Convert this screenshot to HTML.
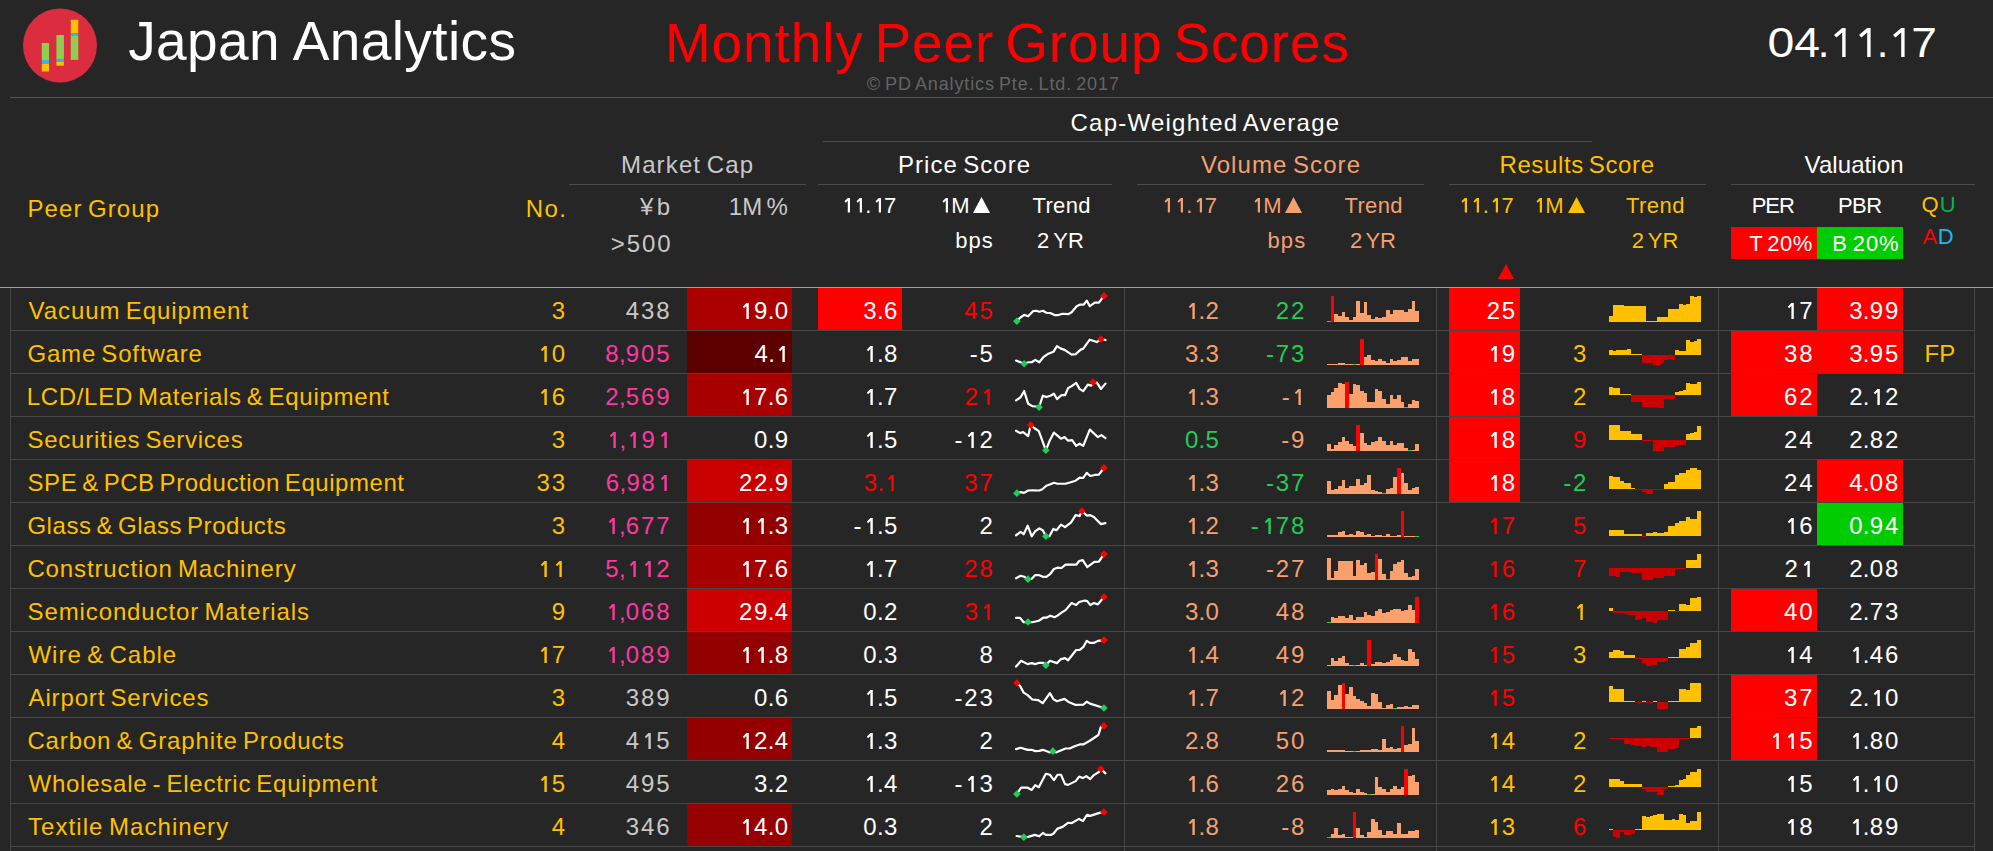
<!DOCTYPE html>
<html><head><meta charset="utf-8"><title>Monthly Peer Group Scores</title>
<style>
html,body{margin:0;padding:0;background:#262626;width:1993px;height:851px;overflow:hidden;}
body{position:relative;font-family:"Liberation Sans", sans-serif;}
.t{position:absolute;white-space:nowrap;}
.r{position:absolute;display:block;}
</style></head><body>
<svg class="r" style="left:22px;top:8px" width="76" height="76" viewBox="0 0 76 76">
<circle cx="38" cy="37.5" r="37" fill="#dc2d40"/>
<rect x="19.8" y="35" width="7.2" height="17" fill="#8fce50"/>
<rect x="19.8" y="52" width="7.2" height="4" fill="#2cb8e8"/>
<rect x="19.8" y="56" width="7.2" height="7.5" fill="#ffc000"/>
<rect x="34.4" y="27" width="7.5" height="24.5" fill="#8fce50"/>
<rect x="34.4" y="51.5" width="7.5" height="2.3" fill="#2cb8e8"/>
<rect x="34.4" y="53.8" width="7.5" height="3.9" fill="#ffc000"/>
<rect x="48.8" y="11.8" width="7.5" height="13.4" fill="#ffc000"/>
<rect x="48.8" y="25.2" width="7.5" height="2.8" fill="#2cb8e8"/>
<rect x="48.8" y="28" width="7.5" height="23.9" fill="#8fce50"/>
</svg>
<div class="t" style="top:13.94px;font-size:55px;line-height:55px;color:#ffffff;letter-spacing:0.402px;left:128.14px;">Japan Analytics</div>
<div class="t" style="top:15.94px;font-size:55px;line-height:55px;color:#ff0000;letter-spacing:0.879px;word-spacing:-5.22px;left:664.89px;">Monthly Peer Group Scores</div>
<div class="t" style="top:74.56px;font-size:18px;line-height:18px;color:#646464;letter-spacing:0.869px;word-spacing:-1.71px;left:866.73px;">© PD Analytics Pte. Ltd. 2017</div>
<div class="t" style="top:21.75px;left:1751.30px;width:60px;text-align:center;font-size:42px;line-height:42px;color:#fff;transform:scaleX(1.15)">0</div>
<div class="t" style="top:21.75px;left:1776.83px;width:60px;text-align:center;font-size:42px;line-height:42px;color:#fff;transform:scaleX(1.1)">4</div>
<div class="t" style="top:21.75px;left:1793.60px;width:60px;text-align:center;font-size:42px;line-height:42px;color:#fff;transform:scaleX(1.0)">.</div>
<svg class="r" style="left:1833.00px;top:26px" width="14" height="33" viewBox="0 0 14 33"><polygon points="9.2,1.9 12.6,1.9 12.6,31 9.2,31 9.2,6.6 3.4,11.6 1,9.0" fill="#fff"/></svg>
<svg class="r" style="left:1858.00px;top:26px" width="14" height="33" viewBox="0 0 14 33"><polygon points="9.2,1.9 12.6,1.9 12.6,31 9.2,31 9.2,6.6 3.4,11.6 1,9.0" fill="#fff"/></svg>
<div class="t" style="top:21.75px;left:1852.50px;width:60px;text-align:center;font-size:42px;line-height:42px;color:#fff;transform:scaleX(1.0)">.</div>
<svg class="r" style="left:1892.00px;top:26px" width="14" height="33" viewBox="0 0 14 33"><polygon points="9.2,1.9 12.6,1.9 12.6,31 9.2,31 9.2,6.6 3.4,11.6 1,9.0" fill="#fff"/></svg>
<div class="t" style="top:21.75px;left:1894.28px;width:60px;text-align:center;font-size:42px;line-height:42px;color:#fff;transform:scaleX(1.1)">7</div>
<div class="r" style="left:10px;top:97px;width:1983px;height:1px;background:#555555;"></div>
<div class="t" style="top:110.88px;font-size:24px;line-height:24px;color:#ffffff;letter-spacing:1.243px;word-spacing:-2.28px;left:1070.48px;">Cap-Weighted Average</div>
<div class="r" style="left:823px;top:141px;width:769px;height:1px;background:#4a4a4a;"></div>
<div class="t" style="top:153.18px;font-size:24px;line-height:24px;color:#c8c8c8;letter-spacing:1.134px;word-spacing:-2.28px;left:621.03px;">Market Cap</div>
<div class="t" style="top:153.18px;font-size:24px;line-height:24px;color:#ffffff;letter-spacing:1.025px;word-spacing:-2.28px;left:898.03px;">Price Score</div>
<div class="t" style="top:153.18px;font-size:24px;line-height:24px;color:#f5a070;letter-spacing:1.094px;word-spacing:-2.28px;left:1200.89px;">Volume Score</div>
<div class="t" style="top:153.28px;font-size:24px;line-height:24px;color:#ffc000;letter-spacing:0.627px;word-spacing:-2.28px;left:1499.43px;">Results Score</div>
<div class="t" style="top:153.28px;font-size:24px;line-height:24px;color:#ffffff;letter-spacing:0.085px;word-spacing:-2.28px;left:1804.59px;">Valuation</div>
<div class="r" style="left:569px;top:184px;width:237px;height:1px;background:#4a4a4a;"></div>
<div class="r" style="left:818px;top:184px;width:294px;height:1px;background:#4a4a4a;"></div>
<div class="r" style="left:1137px;top:184px;width:287px;height:1px;background:#4a4a4a;"></div>
<div class="r" style="left:1449px;top:184px;width:257px;height:1px;background:#4a4a4a;"></div>
<div class="r" style="left:1731px;top:184px;width:244px;height:1px;background:#4a4a4a;"></div>
<div class="t" style="top:196.68px;font-size:24px;line-height:24px;color:#ffc000;letter-spacing:1.075px;word-spacing:-2.28px;left:27.53px;">Peer Group</div>
<div class="t" style="top:196.68px;font-size:24px;line-height:24px;color:#ffc000;letter-spacing:1.458px;word-spacing:-2.28px;left:525.73px;">No.</div>
<div class="t" style="top:194.68px;font-size:24px;line-height:24px;color:#c8c8c8;letter-spacing:3.297px;word-spacing:-2.28px;left:640.02px;">¥b</div>
<div class="t" style="top:194.68px;font-size:24px;line-height:24px;color:#c8c8c8;letter-spacing:-0.032px;word-spacing:-2.28px;left:728.87px;">1M %</div>
<div class="t" style="top:232.38px;font-size:24px;line-height:24px;color:#c8c8c8;letter-spacing:1.891px;word-spacing:-2.28px;left:610.82px;">&gt;500</div>
<div class="t" style="top:194.88px;font-size:22px;line-height:22px;color:#ffffff;letter-spacing:0.0px;right:1096.50px;"><svg width="12.24" height="15.58" style="vertical-align:baseline" viewBox="0 0 12.24 15.58"><polygon points="6.78,0.92 8.98,0.92 8.98,15.58 6.78,15.58 6.78,3.76 4.67,5.68 3.48,4.31" fill="#ffffff"/></svg><svg width="12.54" height="15.58" style="vertical-align:baseline" viewBox="0 0 12.54 15.58"><polygon points="6.78,0.92 8.98,0.92 8.98,15.58 6.78,15.58 6.78,3.76 4.67,5.68 3.48,4.31" fill="#ffffff"/></svg><span style="letter-spacing:0.3px">.</span><svg width="12.24" height="15.58" style="vertical-align:baseline" viewBox="0 0 12.24 15.58"><polygon points="6.78,0.92 8.98,0.92 8.98,15.58 6.78,15.58 6.78,3.76 4.67,5.68 3.48,4.31" fill="#ffffff"/></svg><span style="letter-spacing:0.3px">7</span></div>
<div class="t" style="top:194.88px;left:938.80px;font-size:22px;line-height:22px;color:#ffffff;"><svg width="12.54" height="15.58" style="vertical-align:baseline" viewBox="0 0 12.54 15.58"><polygon points="6.78,0.92 8.98,0.92 8.98,15.58 6.78,15.58 6.78,3.76 4.67,5.68 3.48,4.31" fill="#ffffff"/></svg>M</div>
<svg class="r" style="left:973px;top:197px" width="17" height="16" viewBox="0 0 17 16"><polygon points="0,16 8.5,0 17,16" fill="#ffffff"/></svg>
<div class="t" style="top:194.88px;font-size:22px;line-height:22px;color:#ffffff;letter-spacing:0.314px;word-spacing:-2.09px;left:1032.51px;">Trend</div>
<div class="t" style="top:230.38px;font-size:22px;line-height:22px;color:#ffffff;letter-spacing:1.022px;word-spacing:-2.09px;left:955.28px;">bps</div>
<div class="t" style="top:230.38px;font-size:22px;line-height:22px;color:#ffffff;letter-spacing:0.234px;word-spacing:-2.09px;left:1036.89px;">2 YR</div>
<div class="t" style="top:194.88px;font-size:22px;line-height:22px;color:#f5a070;letter-spacing:0.0px;right:775.60px;"><svg width="12.24" height="15.58" style="vertical-align:baseline" viewBox="0 0 12.24 15.58"><polygon points="6.78,0.92 8.98,0.92 8.98,15.58 6.78,15.58 6.78,3.76 4.67,5.68 3.48,4.31" fill="#f5a070"/></svg><svg width="12.54" height="15.58" style="vertical-align:baseline" viewBox="0 0 12.54 15.58"><polygon points="6.78,0.92 8.98,0.92 8.98,15.58 6.78,15.58 6.78,3.76 4.67,5.68 3.48,4.31" fill="#f5a070"/></svg><span style="letter-spacing:0.3px">.</span><svg width="12.24" height="15.58" style="vertical-align:baseline" viewBox="0 0 12.24 15.58"><polygon points="6.78,0.92 8.98,0.92 8.98,15.58 6.78,15.58 6.78,3.76 4.67,5.68 3.48,4.31" fill="#f5a070"/></svg><span style="letter-spacing:0.3px">7</span></div>
<div class="t" style="top:194.88px;left:1250.80px;font-size:22px;line-height:22px;color:#f5a070;"><svg width="12.54" height="15.58" style="vertical-align:baseline" viewBox="0 0 12.54 15.58"><polygon points="6.78,0.92 8.98,0.92 8.98,15.58 6.78,15.58 6.78,3.76 4.67,5.68 3.48,4.31" fill="#f5a070"/></svg>M</div>
<svg class="r" style="left:1285px;top:197px" width="17" height="16" viewBox="0 0 17 16"><polygon points="0,16 8.5,0 17,16" fill="#f5a070"/></svg>
<div class="t" style="top:194.88px;font-size:22px;line-height:22px;color:#f5a070;letter-spacing:0.314px;word-spacing:-2.09px;left:1344.51px;">Trend</div>
<div class="t" style="top:230.38px;font-size:22px;line-height:22px;color:#f5a070;letter-spacing:1.172px;word-spacing:-2.09px;left:1267.38px;">bps</div>
<div class="t" style="top:230.38px;font-size:22px;line-height:22px;color:#f5a070;letter-spacing:-0.100px;word-spacing:-2.09px;left:1349.89px;">2 YR</div>
<div class="t" style="top:194.88px;font-size:22px;line-height:22px;color:#ffc000;letter-spacing:0.0px;right:479.00px;"><svg width="12.24" height="15.58" style="vertical-align:baseline" viewBox="0 0 12.24 15.58"><polygon points="6.78,0.92 8.98,0.92 8.98,15.58 6.78,15.58 6.78,3.76 4.67,5.68 3.48,4.31" fill="#ffc000"/></svg><svg width="12.54" height="15.58" style="vertical-align:baseline" viewBox="0 0 12.54 15.58"><polygon points="6.78,0.92 8.98,0.92 8.98,15.58 6.78,15.58 6.78,3.76 4.67,5.68 3.48,4.31" fill="#ffc000"/></svg><span style="letter-spacing:0.3px">.</span><svg width="12.24" height="15.58" style="vertical-align:baseline" viewBox="0 0 12.24 15.58"><polygon points="6.78,0.92 8.98,0.92 8.98,15.58 6.78,15.58 6.78,3.76 4.67,5.68 3.48,4.31" fill="#ffc000"/></svg><span style="letter-spacing:0.3px">7</span></div>
<div class="t" style="top:194.88px;left:1532.70px;font-size:22px;line-height:22px;color:#ffc000;"><svg width="12.54" height="15.58" style="vertical-align:baseline" viewBox="0 0 12.54 15.58"><polygon points="6.78,0.92 8.98,0.92 8.98,15.58 6.78,15.58 6.78,3.76 4.67,5.68 3.48,4.31" fill="#ffc000"/></svg>M</div>
<svg class="r" style="left:1567.5px;top:197px" width="17" height="16" viewBox="0 0 17 16"><polygon points="0,16 8.5,0 17,16" fill="#ffc000"/></svg>
<div class="t" style="top:194.88px;font-size:22px;line-height:22px;color:#ffc000;letter-spacing:0.464px;word-spacing:-2.09px;left:1625.91px;">Trend</div>
<div class="t" style="top:230.38px;font-size:22px;line-height:22px;color:#ffc000;letter-spacing:0.067px;word-spacing:-2.09px;left:1631.69px;">2 YR</div>
<div class="t" style="top:194.88px;font-size:22px;line-height:22px;color:#ffffff;letter-spacing:-1.055px;word-spacing:-2.09px;left:1751.70px;">PER</div>
<div class="t" style="top:194.88px;font-size:22px;line-height:22px;color:#ffffff;letter-spacing:-0.605px;word-spacing:-2.09px;left:1838.00px;">PBR</div>
<div class="t" style="top:194.38px;font-size:22px;line-height:22px;color:#ffffff;letter-spacing:1.000px;left:1921.50px;"><span style="color:#ffc000">Q</span><span style="color:#00b84a">U</span></div>
<div class="t" style="top:226.38px;font-size:22px;line-height:22px;color:#ffffff;letter-spacing:0.600px;left:1922.50px;"><span style="color:#ff0000">A</span><span style="color:#18baf0">D</span></div>
<div class="r" style="left:1731px;top:227px;width:86px;height:32px;background:#ff0000;"></div>
<div class="r" style="left:1817px;top:227px;width:86px;height:32px;background:#00cc00;"></div>
<div class="t" style="top:233.38px;font-size:22px;line-height:22px;color:#ffffff;letter-spacing:0.495px;word-spacing:-2.09px;left:1749.31px;">T 20%</div>
<div class="t" style="top:233.38px;font-size:22px;line-height:22px;color:#ffffff;letter-spacing:0.942px;word-spacing:-2.09px;left:1832.20px;">B 20%</div>
<svg class="r" style="left:1497.5px;top:264px" width="16" height="15" viewBox="0 0 16 15"><polygon points="0,15 8.0,0 16,15" fill="#ff0000"/></svg>
<div class="r" style="left:0px;top:287px;width:1993px;height:1px;background:#a0a0a0;"></div>
<div class="r" style="left:687px;top:288px;width:105px;height:42px;background:#aa0000;"></div>
<div class="r" style="left:818px;top:288px;width:84px;height:42px;background:#ff0000;"></div>
<div class="r" style="left:1449px;top:288px;width:71px;height:42px;background:#ff0000;"></div>
<div class="r" style="left:1817px;top:288px;width:86px;height:42px;background:#ff0000;"></div>
<div class="r" style="left:11px;top:330px;width:1963px;height:1px;background:#474747;"></div>
<div class="t" style="top:299.28px;font-size:24px;line-height:24px;color:#ffc000;letter-spacing:0.946px;word-spacing:-2.28px;left:28.49px;">Vacuum Equipment</div>
<div class="t" style="top:299.28px;font-size:24px;line-height:24px;color:#ffc000;letter-spacing:1.8px;right:1427.70px;"><span style="letter-spacing:0.3px">3</span></div>
<div class="t" style="top:299.28px;font-size:24px;line-height:24px;color:#c8c8c8;letter-spacing:1.8px;right:1323.20px;">43<span style="letter-spacing:0.3px">8</span></div>
<div class="t" style="top:299.28px;font-size:24px;line-height:24px;color:#ffffff;letter-spacing:1.8px;right:1204.70px;"><svg width="15.15" height="17.00" style="vertical-align:baseline" viewBox="0 0 15.15 17.00"><polygon points="7.40,1.00 9.80,1.00 9.80,17.00 7.40,17.00 7.40,4.10 5.10,6.20 3.80,4.70" fill="#ffffff"/></svg><span style="letter-spacing:0.3px">9</span><span style="letter-spacing:0.3px">.</span><span style="letter-spacing:0.3px">0</span></div>
<div class="t" style="top:299.28px;font-size:24px;line-height:24px;color:#ffffff;letter-spacing:1.8px;right:1095.40px;"><span style="letter-spacing:0.3px">3</span><span style="letter-spacing:0.3px">.</span><span style="letter-spacing:0.3px">6</span></div>
<div class="t" style="top:299.28px;font-size:24px;line-height:24px;color:#ff0000;letter-spacing:1.8px;right:999.90px;">4<span style="letter-spacing:0.3px">5</span></div>
<div class="t" style="top:299.28px;font-size:24px;line-height:24px;color:#f5a070;letter-spacing:1.8px;right:773.80px;"><svg width="13.65" height="17.00" style="vertical-align:baseline" viewBox="0 0 13.65 17.00"><polygon points="7.40,1.00 9.80,1.00 9.80,17.00 7.40,17.00 7.40,4.10 5.10,6.20 3.80,4.70" fill="#f5a070"/></svg><span style="letter-spacing:0.3px">.</span><span style="letter-spacing:0.3px">2</span></div>
<div class="t" style="top:299.28px;font-size:24px;line-height:24px;color:#22cc55;letter-spacing:1.8px;right:688.40px;">2<span style="letter-spacing:0.3px">2</span></div>
<div class="t" style="top:299.28px;font-size:24px;line-height:24px;color:#ffffff;letter-spacing:1.8px;right:477.50px;">2<span style="letter-spacing:0.3px">5</span></div>
<div class="t" style="top:299.28px;font-size:24px;line-height:24px;color:#ffffff;letter-spacing:1.8px;right:180.20px;"><svg width="15.15" height="17.00" style="vertical-align:baseline" viewBox="0 0 15.15 17.00"><polygon points="7.40,1.00 9.80,1.00 9.80,17.00 7.40,17.00 7.40,4.10 5.10,6.20 3.80,4.70" fill="#ffffff"/></svg><span style="letter-spacing:0.3px">7</span></div>
<div class="t" style="top:299.28px;font-size:24px;line-height:24px;color:#ffffff;letter-spacing:1.8px;right:94.40px;"><span style="letter-spacing:0.3px">3</span><span style="letter-spacing:0.3px">.</span>9<span style="letter-spacing:0.3px">9</span></div>
<div class="r" style="left:687px;top:331px;width:105px;height:42px;background:#5c0000;"></div>
<div class="r" style="left:1449px;top:331px;width:71px;height:42px;background:#ff0000;"></div>
<div class="r" style="left:1731px;top:331px;width:86px;height:42px;background:#ff0000;"></div>
<div class="r" style="left:1817px;top:331px;width:86px;height:42px;background:#ff0000;"></div>
<div class="r" style="left:11px;top:373px;width:1963px;height:1px;background:#474747;"></div>
<div class="t" style="top:342.28px;font-size:24px;line-height:24px;color:#ffc000;letter-spacing:0.842px;word-spacing:-2.28px;left:27.39px;">Game Software</div>
<div class="t" style="top:342.28px;font-size:24px;line-height:24px;color:#ffc000;letter-spacing:1.8px;right:1427.70px;"><svg width="15.15" height="17.00" style="vertical-align:baseline" viewBox="0 0 15.15 17.00"><polygon points="7.40,1.00 9.80,1.00 9.80,17.00 7.40,17.00 7.40,4.10 5.10,6.20 3.80,4.70" fill="#ffc000"/></svg><span style="letter-spacing:0.3px">0</span></div>
<div class="t" style="top:342.28px;font-size:24px;line-height:24px;color:#ff38a0;letter-spacing:1.8px;right:1323.20px;"><span style="letter-spacing:0.3px">8</span><span style="letter-spacing:0.3px">,</span>90<span style="letter-spacing:0.3px">5</span></div>
<div class="t" style="top:342.28px;font-size:24px;line-height:24px;color:#ffffff;letter-spacing:1.8px;right:1204.20px;"><span style="letter-spacing:0.3px">4</span><span style="letter-spacing:0.3px">.</span><svg width="13.65" height="17.00" style="vertical-align:baseline" viewBox="0 0 13.65 17.00"><polygon points="7.40,1.00 9.80,1.00 9.80,17.00 7.40,17.00 7.40,4.10 5.10,6.20 3.80,4.70" fill="#ffffff"/></svg></div>
<div class="t" style="top:342.28px;font-size:24px;line-height:24px;color:#ffffff;letter-spacing:1.8px;right:1095.40px;"><svg width="13.65" height="17.00" style="vertical-align:baseline" viewBox="0 0 13.65 17.00"><polygon points="7.40,1.00 9.80,1.00 9.80,17.00 7.40,17.00 7.40,4.10 5.10,6.20 3.80,4.70" fill="#ffffff"/></svg><span style="letter-spacing:0.3px">.</span><span style="letter-spacing:0.3px">8</span></div>
<div class="t" style="top:342.28px;font-size:24px;line-height:24px;color:#ffffff;letter-spacing:1.8px;right:999.90px;">-<span style="letter-spacing:0.3px">5</span></div>
<div class="t" style="top:342.28px;font-size:24px;line-height:24px;color:#f5a070;letter-spacing:1.8px;right:773.80px;"><span style="letter-spacing:0.3px">3</span><span style="letter-spacing:0.3px">.</span><span style="letter-spacing:0.3px">3</span></div>
<div class="t" style="top:342.28px;font-size:24px;line-height:24px;color:#22cc55;letter-spacing:1.8px;right:688.40px;">-7<span style="letter-spacing:0.3px">3</span></div>
<div class="t" style="top:342.28px;font-size:24px;line-height:24px;color:#ffffff;letter-spacing:1.8px;right:477.50px;"><svg width="15.15" height="17.00" style="vertical-align:baseline" viewBox="0 0 15.15 17.00"><polygon points="7.40,1.00 9.80,1.00 9.80,17.00 7.40,17.00 7.40,4.10 5.10,6.20 3.80,4.70" fill="#ffffff"/></svg><span style="letter-spacing:0.3px">9</span></div>
<div class="t" style="top:342.28px;font-size:24px;line-height:24px;color:#ffc000;letter-spacing:1.8px;right:406.40px;"><span style="letter-spacing:0.3px">3</span></div>
<div class="t" style="top:342.28px;font-size:24px;line-height:24px;color:#ffffff;letter-spacing:1.8px;right:180.20px;">3<span style="letter-spacing:0.3px">8</span></div>
<div class="t" style="top:342.28px;font-size:24px;line-height:24px;color:#ffffff;letter-spacing:1.8px;right:94.40px;"><span style="letter-spacing:0.3px">3</span><span style="letter-spacing:0.3px">.</span>9<span style="letter-spacing:0.3px">5</span></div>
<div class="t" style="top:342.28px;font-size:24px;line-height:24px;color:#ffc000;letter-spacing:-0.037px;word-spacing:-2.28px;left:1924.53px;">FP</div>
<div class="r" style="left:687px;top:374px;width:105px;height:42px;background:#a80000;"></div>
<div class="r" style="left:1449px;top:374px;width:71px;height:42px;background:#ff0000;"></div>
<div class="r" style="left:1731px;top:374px;width:86px;height:42px;background:#ff0000;"></div>
<div class="r" style="left:11px;top:416px;width:1963px;height:1px;background:#474747;"></div>
<div class="t" style="top:385.28px;font-size:24px;line-height:24px;color:#ffc000;letter-spacing:0.704px;word-spacing:-2.28px;left:26.63px;">LCD/LED Materials &amp; Equipment</div>
<div class="t" style="top:385.28px;font-size:24px;line-height:24px;color:#ffc000;letter-spacing:1.8px;right:1427.70px;"><svg width="15.15" height="17.00" style="vertical-align:baseline" viewBox="0 0 15.15 17.00"><polygon points="7.40,1.00 9.80,1.00 9.80,17.00 7.40,17.00 7.40,4.10 5.10,6.20 3.80,4.70" fill="#ffc000"/></svg><span style="letter-spacing:0.3px">6</span></div>
<div class="t" style="top:385.28px;font-size:24px;line-height:24px;color:#ff38a0;letter-spacing:1.8px;right:1323.20px;"><span style="letter-spacing:0.3px">2</span><span style="letter-spacing:0.3px">,</span>56<span style="letter-spacing:0.3px">9</span></div>
<div class="t" style="top:385.28px;font-size:24px;line-height:24px;color:#ffffff;letter-spacing:1.8px;right:1204.70px;"><svg width="15.15" height="17.00" style="vertical-align:baseline" viewBox="0 0 15.15 17.00"><polygon points="7.40,1.00 9.80,1.00 9.80,17.00 7.40,17.00 7.40,4.10 5.10,6.20 3.80,4.70" fill="#ffffff"/></svg><span style="letter-spacing:0.3px">7</span><span style="letter-spacing:0.3px">.</span><span style="letter-spacing:0.3px">6</span></div>
<div class="t" style="top:385.28px;font-size:24px;line-height:24px;color:#ffffff;letter-spacing:1.8px;right:1095.40px;"><svg width="13.65" height="17.00" style="vertical-align:baseline" viewBox="0 0 13.65 17.00"><polygon points="7.40,1.00 9.80,1.00 9.80,17.00 7.40,17.00 7.40,4.10 5.10,6.20 3.80,4.70" fill="#ffffff"/></svg><span style="letter-spacing:0.3px">.</span><span style="letter-spacing:0.3px">7</span></div>
<div class="t" style="top:385.28px;font-size:24px;line-height:24px;color:#ff0000;letter-spacing:1.8px;right:999.40px;">2<svg width="13.65" height="17.00" style="vertical-align:baseline" viewBox="0 0 13.65 17.00"><polygon points="7.40,1.00 9.80,1.00 9.80,17.00 7.40,17.00 7.40,4.10 5.10,6.20 3.80,4.70" fill="#ff0000"/></svg></div>
<div class="t" style="top:385.28px;font-size:24px;line-height:24px;color:#f5a070;letter-spacing:1.8px;right:773.80px;"><svg width="13.65" height="17.00" style="vertical-align:baseline" viewBox="0 0 13.65 17.00"><polygon points="7.40,1.00 9.80,1.00 9.80,17.00 7.40,17.00 7.40,4.10 5.10,6.20 3.80,4.70" fill="#f5a070"/></svg><span style="letter-spacing:0.3px">.</span><span style="letter-spacing:0.3px">3</span></div>
<div class="t" style="top:385.28px;font-size:24px;line-height:24px;color:#f5a070;letter-spacing:1.8px;right:687.90px;">-<svg width="13.65" height="17.00" style="vertical-align:baseline" viewBox="0 0 13.65 17.00"><polygon points="7.40,1.00 9.80,1.00 9.80,17.00 7.40,17.00 7.40,4.10 5.10,6.20 3.80,4.70" fill="#f5a070"/></svg></div>
<div class="t" style="top:385.28px;font-size:24px;line-height:24px;color:#ffffff;letter-spacing:1.8px;right:477.50px;"><svg width="15.15" height="17.00" style="vertical-align:baseline" viewBox="0 0 15.15 17.00"><polygon points="7.40,1.00 9.80,1.00 9.80,17.00 7.40,17.00 7.40,4.10 5.10,6.20 3.80,4.70" fill="#ffffff"/></svg><span style="letter-spacing:0.3px">8</span></div>
<div class="t" style="top:385.28px;font-size:24px;line-height:24px;color:#ffc000;letter-spacing:1.8px;right:406.40px;"><span style="letter-spacing:0.3px">2</span></div>
<div class="t" style="top:385.28px;font-size:24px;line-height:24px;color:#ffffff;letter-spacing:1.8px;right:180.20px;">6<span style="letter-spacing:0.3px">2</span></div>
<div class="t" style="top:385.28px;font-size:24px;line-height:24px;color:#ffffff;letter-spacing:1.8px;right:94.40px;"><span style="letter-spacing:0.3px">2</span><span style="letter-spacing:0.3px">.</span><svg width="15.15" height="17.00" style="vertical-align:baseline" viewBox="0 0 15.15 17.00"><polygon points="7.40,1.00 9.80,1.00 9.80,17.00 7.40,17.00 7.40,4.10 5.10,6.20 3.80,4.70" fill="#ffffff"/></svg><span style="letter-spacing:0.3px">2</span></div>
<div class="r" style="left:1449px;top:417px;width:71px;height:42px;background:#ff0000;"></div>
<div class="r" style="left:11px;top:459px;width:1963px;height:1px;background:#474747;"></div>
<div class="t" style="top:428.28px;font-size:24px;line-height:24px;color:#ffc000;letter-spacing:0.742px;word-spacing:-2.28px;left:27.51px;">Securities Services</div>
<div class="t" style="top:428.28px;font-size:24px;line-height:24px;color:#ffc000;letter-spacing:1.8px;right:1427.70px;"><span style="letter-spacing:0.3px">3</span></div>
<div class="t" style="top:428.28px;font-size:24px;line-height:24px;color:#ff38a0;letter-spacing:1.8px;right:1322.70px;"><svg width="13.65" height="17.00" style="vertical-align:baseline" viewBox="0 0 13.65 17.00"><polygon points="7.40,1.00 9.80,1.00 9.80,17.00 7.40,17.00 7.40,4.10 5.10,6.20 3.80,4.70" fill="#ff38a0"/></svg><span style="letter-spacing:0.3px">,</span><svg width="15.15" height="17.00" style="vertical-align:baseline" viewBox="0 0 15.15 17.00"><polygon points="7.40,1.00 9.80,1.00 9.80,17.00 7.40,17.00 7.40,4.10 5.10,6.20 3.80,4.70" fill="#ff38a0"/></svg>9<svg width="13.65" height="17.00" style="vertical-align:baseline" viewBox="0 0 13.65 17.00"><polygon points="7.40,1.00 9.80,1.00 9.80,17.00 7.40,17.00 7.40,4.10 5.10,6.20 3.80,4.70" fill="#ff38a0"/></svg></div>
<div class="t" style="top:428.28px;font-size:24px;line-height:24px;color:#ffffff;letter-spacing:1.8px;right:1204.70px;"><span style="letter-spacing:0.3px">0</span><span style="letter-spacing:0.3px">.</span><span style="letter-spacing:0.3px">9</span></div>
<div class="t" style="top:428.28px;font-size:24px;line-height:24px;color:#ffffff;letter-spacing:1.8px;right:1095.40px;"><svg width="13.65" height="17.00" style="vertical-align:baseline" viewBox="0 0 13.65 17.00"><polygon points="7.40,1.00 9.80,1.00 9.80,17.00 7.40,17.00 7.40,4.10 5.10,6.20 3.80,4.70" fill="#ffffff"/></svg><span style="letter-spacing:0.3px">.</span><span style="letter-spacing:0.3px">5</span></div>
<div class="t" style="top:428.28px;font-size:24px;line-height:24px;color:#ffffff;letter-spacing:1.8px;right:999.90px;">-<svg width="15.15" height="17.00" style="vertical-align:baseline" viewBox="0 0 15.15 17.00"><polygon points="7.40,1.00 9.80,1.00 9.80,17.00 7.40,17.00 7.40,4.10 5.10,6.20 3.80,4.70" fill="#ffffff"/></svg><span style="letter-spacing:0.3px">2</span></div>
<div class="t" style="top:428.28px;font-size:24px;line-height:24px;color:#22cc55;letter-spacing:1.8px;right:773.80px;"><span style="letter-spacing:0.3px">0</span><span style="letter-spacing:0.3px">.</span><span style="letter-spacing:0.3px">5</span></div>
<div class="t" style="top:428.28px;font-size:24px;line-height:24px;color:#f5a070;letter-spacing:1.8px;right:688.40px;">-<span style="letter-spacing:0.3px">9</span></div>
<div class="t" style="top:428.28px;font-size:24px;line-height:24px;color:#ffffff;letter-spacing:1.8px;right:477.50px;"><svg width="15.15" height="17.00" style="vertical-align:baseline" viewBox="0 0 15.15 17.00"><polygon points="7.40,1.00 9.80,1.00 9.80,17.00 7.40,17.00 7.40,4.10 5.10,6.20 3.80,4.70" fill="#ffffff"/></svg><span style="letter-spacing:0.3px">8</span></div>
<div class="t" style="top:428.28px;font-size:24px;line-height:24px;color:#ff0000;letter-spacing:1.8px;right:406.40px;"><span style="letter-spacing:0.3px">9</span></div>
<div class="t" style="top:428.28px;font-size:24px;line-height:24px;color:#ffffff;letter-spacing:1.8px;right:180.20px;">2<span style="letter-spacing:0.3px">4</span></div>
<div class="t" style="top:428.28px;font-size:24px;line-height:24px;color:#ffffff;letter-spacing:1.8px;right:94.40px;"><span style="letter-spacing:0.3px">2</span><span style="letter-spacing:0.3px">.</span>8<span style="letter-spacing:0.3px">2</span></div>
<div class="r" style="left:687px;top:460px;width:105px;height:42px;background:#c80000;"></div>
<div class="r" style="left:1449px;top:460px;width:71px;height:42px;background:#ff0000;"></div>
<div class="r" style="left:1817px;top:460px;width:86px;height:42px;background:#ff0000;"></div>
<div class="r" style="left:11px;top:502px;width:1963px;height:1px;background:#474747;"></div>
<div class="t" style="top:471.28px;font-size:24px;line-height:24px;color:#ffc000;letter-spacing:0.555px;word-spacing:-2.28px;left:27.51px;">SPE &amp; PCB Production Equipment</div>
<div class="t" style="top:471.28px;font-size:24px;line-height:24px;color:#ffc000;letter-spacing:1.8px;right:1427.70px;">3<span style="letter-spacing:0.3px">3</span></div>
<div class="t" style="top:471.28px;font-size:24px;line-height:24px;color:#ff38a0;letter-spacing:1.8px;right:1322.70px;"><span style="letter-spacing:0.3px">6</span><span style="letter-spacing:0.3px">,</span>98<svg width="13.65" height="17.00" style="vertical-align:baseline" viewBox="0 0 13.65 17.00"><polygon points="7.40,1.00 9.80,1.00 9.80,17.00 7.40,17.00 7.40,4.10 5.10,6.20 3.80,4.70" fill="#ff38a0"/></svg></div>
<div class="t" style="top:471.28px;font-size:24px;line-height:24px;color:#ffffff;letter-spacing:1.8px;right:1204.70px;">2<span style="letter-spacing:0.3px">2</span><span style="letter-spacing:0.3px">.</span><span style="letter-spacing:0.3px">9</span></div>
<div class="t" style="top:471.28px;font-size:24px;line-height:24px;color:#ff0000;letter-spacing:1.8px;right:1094.90px;"><span style="letter-spacing:0.3px">3</span><span style="letter-spacing:0.3px">.</span><svg width="13.65" height="17.00" style="vertical-align:baseline" viewBox="0 0 13.65 17.00"><polygon points="7.40,1.00 9.80,1.00 9.80,17.00 7.40,17.00 7.40,4.10 5.10,6.20 3.80,4.70" fill="#ff0000"/></svg></div>
<div class="t" style="top:471.28px;font-size:24px;line-height:24px;color:#ff0000;letter-spacing:1.8px;right:999.90px;">3<span style="letter-spacing:0.3px">7</span></div>
<div class="t" style="top:471.28px;font-size:24px;line-height:24px;color:#f5a070;letter-spacing:1.8px;right:773.80px;"><svg width="13.65" height="17.00" style="vertical-align:baseline" viewBox="0 0 13.65 17.00"><polygon points="7.40,1.00 9.80,1.00 9.80,17.00 7.40,17.00 7.40,4.10 5.10,6.20 3.80,4.70" fill="#f5a070"/></svg><span style="letter-spacing:0.3px">.</span><span style="letter-spacing:0.3px">3</span></div>
<div class="t" style="top:471.28px;font-size:24px;line-height:24px;color:#22cc55;letter-spacing:1.8px;right:688.40px;">-3<span style="letter-spacing:0.3px">7</span></div>
<div class="t" style="top:471.28px;font-size:24px;line-height:24px;color:#ffffff;letter-spacing:1.8px;right:477.50px;"><svg width="15.15" height="17.00" style="vertical-align:baseline" viewBox="0 0 15.15 17.00"><polygon points="7.40,1.00 9.80,1.00 9.80,17.00 7.40,17.00 7.40,4.10 5.10,6.20 3.80,4.70" fill="#ffffff"/></svg><span style="letter-spacing:0.3px">8</span></div>
<div class="t" style="top:471.28px;font-size:24px;line-height:24px;color:#22cc55;letter-spacing:1.8px;right:406.40px;">-<span style="letter-spacing:0.3px">2</span></div>
<div class="t" style="top:471.28px;font-size:24px;line-height:24px;color:#ffffff;letter-spacing:1.8px;right:180.20px;">2<span style="letter-spacing:0.3px">4</span></div>
<div class="t" style="top:471.28px;font-size:24px;line-height:24px;color:#ffffff;letter-spacing:1.8px;right:94.40px;"><span style="letter-spacing:0.3px">4</span><span style="letter-spacing:0.3px">.</span>0<span style="letter-spacing:0.3px">8</span></div>
<div class="r" style="left:687px;top:503px;width:105px;height:42px;background:#920000;"></div>
<div class="r" style="left:1817px;top:503px;width:86px;height:42px;background:#00cc00;"></div>
<div class="r" style="left:11px;top:545px;width:1963px;height:1px;background:#474747;"></div>
<div class="t" style="top:514.28px;font-size:24px;line-height:24px;color:#ffc000;letter-spacing:0.556px;word-spacing:-2.28px;left:27.39px;">Glass &amp; Glass Products</div>
<div class="t" style="top:514.28px;font-size:24px;line-height:24px;color:#ffc000;letter-spacing:1.8px;right:1427.70px;"><span style="letter-spacing:0.3px">3</span></div>
<div class="t" style="top:514.28px;font-size:24px;line-height:24px;color:#ff38a0;letter-spacing:1.8px;right:1323.20px;"><svg width="13.65" height="17.00" style="vertical-align:baseline" viewBox="0 0 13.65 17.00"><polygon points="7.40,1.00 9.80,1.00 9.80,17.00 7.40,17.00 7.40,4.10 5.10,6.20 3.80,4.70" fill="#ff38a0"/></svg><span style="letter-spacing:0.3px">,</span>67<span style="letter-spacing:0.3px">7</span></div>
<div class="t" style="top:514.28px;font-size:24px;line-height:24px;color:#ffffff;letter-spacing:1.8px;right:1204.70px;"><svg width="15.15" height="17.00" style="vertical-align:baseline" viewBox="0 0 15.15 17.00"><polygon points="7.40,1.00 9.80,1.00 9.80,17.00 7.40,17.00 7.40,4.10 5.10,6.20 3.80,4.70" fill="#ffffff"/></svg><svg width="13.65" height="17.00" style="vertical-align:baseline" viewBox="0 0 13.65 17.00"><polygon points="7.40,1.00 9.80,1.00 9.80,17.00 7.40,17.00 7.40,4.10 5.10,6.20 3.80,4.70" fill="#ffffff"/></svg><span style="letter-spacing:0.3px">.</span><span style="letter-spacing:0.3px">3</span></div>
<div class="t" style="top:514.28px;font-size:24px;line-height:24px;color:#ffffff;letter-spacing:1.8px;right:1095.40px;">-<svg width="13.65" height="17.00" style="vertical-align:baseline" viewBox="0 0 13.65 17.00"><polygon points="7.40,1.00 9.80,1.00 9.80,17.00 7.40,17.00 7.40,4.10 5.10,6.20 3.80,4.70" fill="#ffffff"/></svg><span style="letter-spacing:0.3px">.</span><span style="letter-spacing:0.3px">5</span></div>
<div class="t" style="top:514.28px;font-size:24px;line-height:24px;color:#ffffff;letter-spacing:1.8px;right:999.90px;"><span style="letter-spacing:0.3px">2</span></div>
<div class="t" style="top:514.28px;font-size:24px;line-height:24px;color:#f5a070;letter-spacing:1.8px;right:773.80px;"><svg width="13.65" height="17.00" style="vertical-align:baseline" viewBox="0 0 13.65 17.00"><polygon points="7.40,1.00 9.80,1.00 9.80,17.00 7.40,17.00 7.40,4.10 5.10,6.20 3.80,4.70" fill="#f5a070"/></svg><span style="letter-spacing:0.3px">.</span><span style="letter-spacing:0.3px">2</span></div>
<div class="t" style="top:514.28px;font-size:24px;line-height:24px;color:#22cc55;letter-spacing:1.8px;right:688.40px;">-<svg width="15.15" height="17.00" style="vertical-align:baseline" viewBox="0 0 15.15 17.00"><polygon points="7.40,1.00 9.80,1.00 9.80,17.00 7.40,17.00 7.40,4.10 5.10,6.20 3.80,4.70" fill="#22cc55"/></svg>7<span style="letter-spacing:0.3px">8</span></div>
<div class="t" style="top:514.28px;font-size:24px;line-height:24px;color:#ff0000;letter-spacing:1.8px;right:477.50px;"><svg width="15.15" height="17.00" style="vertical-align:baseline" viewBox="0 0 15.15 17.00"><polygon points="7.40,1.00 9.80,1.00 9.80,17.00 7.40,17.00 7.40,4.10 5.10,6.20 3.80,4.70" fill="#ff0000"/></svg><span style="letter-spacing:0.3px">7</span></div>
<div class="t" style="top:514.28px;font-size:24px;line-height:24px;color:#ff0000;letter-spacing:1.8px;right:406.40px;"><span style="letter-spacing:0.3px">5</span></div>
<div class="t" style="top:514.28px;font-size:24px;line-height:24px;color:#ffffff;letter-spacing:1.8px;right:180.20px;"><svg width="15.15" height="17.00" style="vertical-align:baseline" viewBox="0 0 15.15 17.00"><polygon points="7.40,1.00 9.80,1.00 9.80,17.00 7.40,17.00 7.40,4.10 5.10,6.20 3.80,4.70" fill="#ffffff"/></svg><span style="letter-spacing:0.3px">6</span></div>
<div class="t" style="top:514.28px;font-size:24px;line-height:24px;color:#ffffff;letter-spacing:1.8px;right:94.40px;"><span style="letter-spacing:0.3px">0</span><span style="letter-spacing:0.3px">.</span>9<span style="letter-spacing:0.3px">4</span></div>
<div class="r" style="left:687px;top:546px;width:105px;height:42px;background:#a60000;"></div>
<div class="r" style="left:11px;top:588px;width:1963px;height:1px;background:#474747;"></div>
<div class="t" style="top:557.28px;font-size:24px;line-height:24px;color:#ffc000;letter-spacing:0.879px;word-spacing:-2.28px;left:27.38px;">Construction Machinery</div>
<div class="t" style="top:557.28px;font-size:24px;line-height:24px;color:#ffc000;letter-spacing:1.8px;right:1427.20px;"><svg width="15.15" height="17.00" style="vertical-align:baseline" viewBox="0 0 15.15 17.00"><polygon points="7.40,1.00 9.80,1.00 9.80,17.00 7.40,17.00 7.40,4.10 5.10,6.20 3.80,4.70" fill="#ffc000"/></svg><svg width="13.65" height="17.00" style="vertical-align:baseline" viewBox="0 0 13.65 17.00"><polygon points="7.40,1.00 9.80,1.00 9.80,17.00 7.40,17.00 7.40,4.10 5.10,6.20 3.80,4.70" fill="#ffc000"/></svg></div>
<div class="t" style="top:557.28px;font-size:24px;line-height:24px;color:#ff38a0;letter-spacing:1.8px;right:1323.20px;"><span style="letter-spacing:0.3px">5</span><span style="letter-spacing:0.3px">,</span><svg width="15.15" height="17.00" style="vertical-align:baseline" viewBox="0 0 15.15 17.00"><polygon points="7.40,1.00 9.80,1.00 9.80,17.00 7.40,17.00 7.40,4.10 5.10,6.20 3.80,4.70" fill="#ff38a0"/></svg><svg width="15.15" height="17.00" style="vertical-align:baseline" viewBox="0 0 15.15 17.00"><polygon points="7.40,1.00 9.80,1.00 9.80,17.00 7.40,17.00 7.40,4.10 5.10,6.20 3.80,4.70" fill="#ff38a0"/></svg><span style="letter-spacing:0.3px">2</span></div>
<div class="t" style="top:557.28px;font-size:24px;line-height:24px;color:#ffffff;letter-spacing:1.8px;right:1204.70px;"><svg width="15.15" height="17.00" style="vertical-align:baseline" viewBox="0 0 15.15 17.00"><polygon points="7.40,1.00 9.80,1.00 9.80,17.00 7.40,17.00 7.40,4.10 5.10,6.20 3.80,4.70" fill="#ffffff"/></svg><span style="letter-spacing:0.3px">7</span><span style="letter-spacing:0.3px">.</span><span style="letter-spacing:0.3px">6</span></div>
<div class="t" style="top:557.28px;font-size:24px;line-height:24px;color:#ffffff;letter-spacing:1.8px;right:1095.40px;"><svg width="13.65" height="17.00" style="vertical-align:baseline" viewBox="0 0 13.65 17.00"><polygon points="7.40,1.00 9.80,1.00 9.80,17.00 7.40,17.00 7.40,4.10 5.10,6.20 3.80,4.70" fill="#ffffff"/></svg><span style="letter-spacing:0.3px">.</span><span style="letter-spacing:0.3px">7</span></div>
<div class="t" style="top:557.28px;font-size:24px;line-height:24px;color:#ff0000;letter-spacing:1.8px;right:999.90px;">2<span style="letter-spacing:0.3px">8</span></div>
<div class="t" style="top:557.28px;font-size:24px;line-height:24px;color:#f5a070;letter-spacing:1.8px;right:773.80px;"><svg width="13.65" height="17.00" style="vertical-align:baseline" viewBox="0 0 13.65 17.00"><polygon points="7.40,1.00 9.80,1.00 9.80,17.00 7.40,17.00 7.40,4.10 5.10,6.20 3.80,4.70" fill="#f5a070"/></svg><span style="letter-spacing:0.3px">.</span><span style="letter-spacing:0.3px">3</span></div>
<div class="t" style="top:557.28px;font-size:24px;line-height:24px;color:#f5a070;letter-spacing:1.8px;right:688.40px;">-2<span style="letter-spacing:0.3px">7</span></div>
<div class="t" style="top:557.28px;font-size:24px;line-height:24px;color:#ff0000;letter-spacing:1.8px;right:477.50px;"><svg width="15.15" height="17.00" style="vertical-align:baseline" viewBox="0 0 15.15 17.00"><polygon points="7.40,1.00 9.80,1.00 9.80,17.00 7.40,17.00 7.40,4.10 5.10,6.20 3.80,4.70" fill="#ff0000"/></svg><span style="letter-spacing:0.3px">6</span></div>
<div class="t" style="top:557.28px;font-size:24px;line-height:24px;color:#ff0000;letter-spacing:1.8px;right:406.40px;"><span style="letter-spacing:0.3px">7</span></div>
<div class="t" style="top:557.28px;font-size:24px;line-height:24px;color:#ffffff;letter-spacing:1.8px;right:179.70px;">2<svg width="13.65" height="17.00" style="vertical-align:baseline" viewBox="0 0 13.65 17.00"><polygon points="7.40,1.00 9.80,1.00 9.80,17.00 7.40,17.00 7.40,4.10 5.10,6.20 3.80,4.70" fill="#ffffff"/></svg></div>
<div class="t" style="top:557.28px;font-size:24px;line-height:24px;color:#ffffff;letter-spacing:1.8px;right:94.40px;"><span style="letter-spacing:0.3px">2</span><span style="letter-spacing:0.3px">.</span>0<span style="letter-spacing:0.3px">8</span></div>
<div class="r" style="left:687px;top:589px;width:105px;height:42px;background:#cc0000;"></div>
<div class="r" style="left:1731px;top:589px;width:86px;height:42px;background:#ff0000;"></div>
<div class="r" style="left:11px;top:631px;width:1963px;height:1px;background:#474747;"></div>
<div class="t" style="top:600.28px;font-size:24px;line-height:24px;color:#ffc000;letter-spacing:0.892px;word-spacing:-2.28px;left:27.51px;">Semiconductor Materials</div>
<div class="t" style="top:600.28px;font-size:24px;line-height:24px;color:#ffc000;letter-spacing:1.8px;right:1427.70px;"><span style="letter-spacing:0.3px">9</span></div>
<div class="t" style="top:600.28px;font-size:24px;line-height:24px;color:#ff38a0;letter-spacing:1.8px;right:1323.20px;"><svg width="13.65" height="17.00" style="vertical-align:baseline" viewBox="0 0 13.65 17.00"><polygon points="7.40,1.00 9.80,1.00 9.80,17.00 7.40,17.00 7.40,4.10 5.10,6.20 3.80,4.70" fill="#ff38a0"/></svg><span style="letter-spacing:0.3px">,</span>06<span style="letter-spacing:0.3px">8</span></div>
<div class="t" style="top:600.28px;font-size:24px;line-height:24px;color:#ffffff;letter-spacing:1.8px;right:1204.70px;">2<span style="letter-spacing:0.3px">9</span><span style="letter-spacing:0.3px">.</span><span style="letter-spacing:0.3px">4</span></div>
<div class="t" style="top:600.28px;font-size:24px;line-height:24px;color:#ffffff;letter-spacing:1.8px;right:1095.40px;"><span style="letter-spacing:0.3px">0</span><span style="letter-spacing:0.3px">.</span><span style="letter-spacing:0.3px">2</span></div>
<div class="t" style="top:600.28px;font-size:24px;line-height:24px;color:#ff0000;letter-spacing:1.8px;right:999.40px;">3<svg width="13.65" height="17.00" style="vertical-align:baseline" viewBox="0 0 13.65 17.00"><polygon points="7.40,1.00 9.80,1.00 9.80,17.00 7.40,17.00 7.40,4.10 5.10,6.20 3.80,4.70" fill="#ff0000"/></svg></div>
<div class="t" style="top:600.28px;font-size:24px;line-height:24px;color:#f5a070;letter-spacing:1.8px;right:773.80px;"><span style="letter-spacing:0.3px">3</span><span style="letter-spacing:0.3px">.</span><span style="letter-spacing:0.3px">0</span></div>
<div class="t" style="top:600.28px;font-size:24px;line-height:24px;color:#f5a070;letter-spacing:1.8px;right:688.40px;">4<span style="letter-spacing:0.3px">8</span></div>
<div class="t" style="top:600.28px;font-size:24px;line-height:24px;color:#ff0000;letter-spacing:1.8px;right:477.50px;"><svg width="15.15" height="17.00" style="vertical-align:baseline" viewBox="0 0 15.15 17.00"><polygon points="7.40,1.00 9.80,1.00 9.80,17.00 7.40,17.00 7.40,4.10 5.10,6.20 3.80,4.70" fill="#ff0000"/></svg><span style="letter-spacing:0.3px">6</span></div>
<div class="t" style="top:600.28px;font-size:24px;line-height:24px;color:#ffc000;letter-spacing:1.8px;right:405.90px;"><svg width="13.65" height="17.00" style="vertical-align:baseline" viewBox="0 0 13.65 17.00"><polygon points="7.40,1.00 9.80,1.00 9.80,17.00 7.40,17.00 7.40,4.10 5.10,6.20 3.80,4.70" fill="#ffc000"/></svg></div>
<div class="t" style="top:600.28px;font-size:24px;line-height:24px;color:#ffffff;letter-spacing:1.8px;right:180.20px;">4<span style="letter-spacing:0.3px">0</span></div>
<div class="t" style="top:600.28px;font-size:24px;line-height:24px;color:#ffffff;letter-spacing:1.8px;right:94.40px;"><span style="letter-spacing:0.3px">2</span><span style="letter-spacing:0.3px">.</span>7<span style="letter-spacing:0.3px">3</span></div>
<div class="r" style="left:687px;top:632px;width:105px;height:42px;background:#920000;"></div>
<div class="r" style="left:11px;top:674px;width:1963px;height:1px;background:#474747;"></div>
<div class="t" style="top:643.28px;font-size:24px;line-height:24px;color:#ffc000;letter-spacing:0.987px;word-spacing:-2.28px;left:28.49px;">Wire &amp; Cable</div>
<div class="t" style="top:643.28px;font-size:24px;line-height:24px;color:#ffc000;letter-spacing:1.8px;right:1427.70px;"><svg width="15.15" height="17.00" style="vertical-align:baseline" viewBox="0 0 15.15 17.00"><polygon points="7.40,1.00 9.80,1.00 9.80,17.00 7.40,17.00 7.40,4.10 5.10,6.20 3.80,4.70" fill="#ffc000"/></svg><span style="letter-spacing:0.3px">7</span></div>
<div class="t" style="top:643.28px;font-size:24px;line-height:24px;color:#ff38a0;letter-spacing:1.8px;right:1323.20px;"><svg width="13.65" height="17.00" style="vertical-align:baseline" viewBox="0 0 13.65 17.00"><polygon points="7.40,1.00 9.80,1.00 9.80,17.00 7.40,17.00 7.40,4.10 5.10,6.20 3.80,4.70" fill="#ff38a0"/></svg><span style="letter-spacing:0.3px">,</span>08<span style="letter-spacing:0.3px">9</span></div>
<div class="t" style="top:643.28px;font-size:24px;line-height:24px;color:#ffffff;letter-spacing:1.8px;right:1204.70px;"><svg width="15.15" height="17.00" style="vertical-align:baseline" viewBox="0 0 15.15 17.00"><polygon points="7.40,1.00 9.80,1.00 9.80,17.00 7.40,17.00 7.40,4.10 5.10,6.20 3.80,4.70" fill="#ffffff"/></svg><svg width="13.65" height="17.00" style="vertical-align:baseline" viewBox="0 0 13.65 17.00"><polygon points="7.40,1.00 9.80,1.00 9.80,17.00 7.40,17.00 7.40,4.10 5.10,6.20 3.80,4.70" fill="#ffffff"/></svg><span style="letter-spacing:0.3px">.</span><span style="letter-spacing:0.3px">8</span></div>
<div class="t" style="top:643.28px;font-size:24px;line-height:24px;color:#ffffff;letter-spacing:1.8px;right:1095.40px;"><span style="letter-spacing:0.3px">0</span><span style="letter-spacing:0.3px">.</span><span style="letter-spacing:0.3px">3</span></div>
<div class="t" style="top:643.28px;font-size:24px;line-height:24px;color:#ffffff;letter-spacing:1.8px;right:999.90px;"><span style="letter-spacing:0.3px">8</span></div>
<div class="t" style="top:643.28px;font-size:24px;line-height:24px;color:#f5a070;letter-spacing:1.8px;right:773.80px;"><svg width="13.65" height="17.00" style="vertical-align:baseline" viewBox="0 0 13.65 17.00"><polygon points="7.40,1.00 9.80,1.00 9.80,17.00 7.40,17.00 7.40,4.10 5.10,6.20 3.80,4.70" fill="#f5a070"/></svg><span style="letter-spacing:0.3px">.</span><span style="letter-spacing:0.3px">4</span></div>
<div class="t" style="top:643.28px;font-size:24px;line-height:24px;color:#f5a070;letter-spacing:1.8px;right:688.40px;">4<span style="letter-spacing:0.3px">9</span></div>
<div class="t" style="top:643.28px;font-size:24px;line-height:24px;color:#ff0000;letter-spacing:1.8px;right:477.50px;"><svg width="15.15" height="17.00" style="vertical-align:baseline" viewBox="0 0 15.15 17.00"><polygon points="7.40,1.00 9.80,1.00 9.80,17.00 7.40,17.00 7.40,4.10 5.10,6.20 3.80,4.70" fill="#ff0000"/></svg><span style="letter-spacing:0.3px">5</span></div>
<div class="t" style="top:643.28px;font-size:24px;line-height:24px;color:#ffc000;letter-spacing:1.8px;right:406.40px;"><span style="letter-spacing:0.3px">3</span></div>
<div class="t" style="top:643.28px;font-size:24px;line-height:24px;color:#ffffff;letter-spacing:1.8px;right:180.20px;"><svg width="15.15" height="17.00" style="vertical-align:baseline" viewBox="0 0 15.15 17.00"><polygon points="7.40,1.00 9.80,1.00 9.80,17.00 7.40,17.00 7.40,4.10 5.10,6.20 3.80,4.70" fill="#ffffff"/></svg><span style="letter-spacing:0.3px">4</span></div>
<div class="t" style="top:643.28px;font-size:24px;line-height:24px;color:#ffffff;letter-spacing:1.8px;right:94.40px;"><svg width="13.65" height="17.00" style="vertical-align:baseline" viewBox="0 0 13.65 17.00"><polygon points="7.40,1.00 9.80,1.00 9.80,17.00 7.40,17.00 7.40,4.10 5.10,6.20 3.80,4.70" fill="#ffffff"/></svg><span style="letter-spacing:0.3px">.</span>4<span style="letter-spacing:0.3px">6</span></div>
<div class="r" style="left:1731px;top:675px;width:86px;height:42px;background:#ff0000;"></div>
<div class="r" style="left:11px;top:717px;width:1963px;height:1px;background:#474747;"></div>
<div class="t" style="top:686.28px;font-size:24px;line-height:24px;color:#ffc000;letter-spacing:0.859px;word-spacing:-2.28px;left:28.55px;">Airport Services</div>
<div class="t" style="top:686.28px;font-size:24px;line-height:24px;color:#ffc000;letter-spacing:1.8px;right:1427.70px;"><span style="letter-spacing:0.3px">3</span></div>
<div class="t" style="top:686.28px;font-size:24px;line-height:24px;color:#c8c8c8;letter-spacing:1.8px;right:1323.20px;">38<span style="letter-spacing:0.3px">9</span></div>
<div class="t" style="top:686.28px;font-size:24px;line-height:24px;color:#ffffff;letter-spacing:1.8px;right:1204.70px;"><span style="letter-spacing:0.3px">0</span><span style="letter-spacing:0.3px">.</span><span style="letter-spacing:0.3px">6</span></div>
<div class="t" style="top:686.28px;font-size:24px;line-height:24px;color:#ffffff;letter-spacing:1.8px;right:1095.40px;"><svg width="13.65" height="17.00" style="vertical-align:baseline" viewBox="0 0 13.65 17.00"><polygon points="7.40,1.00 9.80,1.00 9.80,17.00 7.40,17.00 7.40,4.10 5.10,6.20 3.80,4.70" fill="#ffffff"/></svg><span style="letter-spacing:0.3px">.</span><span style="letter-spacing:0.3px">5</span></div>
<div class="t" style="top:686.28px;font-size:24px;line-height:24px;color:#ffffff;letter-spacing:1.8px;right:999.90px;">-2<span style="letter-spacing:0.3px">3</span></div>
<div class="t" style="top:686.28px;font-size:24px;line-height:24px;color:#f5a070;letter-spacing:1.8px;right:773.80px;"><svg width="13.65" height="17.00" style="vertical-align:baseline" viewBox="0 0 13.65 17.00"><polygon points="7.40,1.00 9.80,1.00 9.80,17.00 7.40,17.00 7.40,4.10 5.10,6.20 3.80,4.70" fill="#f5a070"/></svg><span style="letter-spacing:0.3px">.</span><span style="letter-spacing:0.3px">7</span></div>
<div class="t" style="top:686.28px;font-size:24px;line-height:24px;color:#f5a070;letter-spacing:1.8px;right:688.40px;"><svg width="15.15" height="17.00" style="vertical-align:baseline" viewBox="0 0 15.15 17.00"><polygon points="7.40,1.00 9.80,1.00 9.80,17.00 7.40,17.00 7.40,4.10 5.10,6.20 3.80,4.70" fill="#f5a070"/></svg><span style="letter-spacing:0.3px">2</span></div>
<div class="t" style="top:686.28px;font-size:24px;line-height:24px;color:#ff0000;letter-spacing:1.8px;right:477.50px;"><svg width="15.15" height="17.00" style="vertical-align:baseline" viewBox="0 0 15.15 17.00"><polygon points="7.40,1.00 9.80,1.00 9.80,17.00 7.40,17.00 7.40,4.10 5.10,6.20 3.80,4.70" fill="#ff0000"/></svg><span style="letter-spacing:0.3px">5</span></div>
<div class="t" style="top:686.28px;font-size:24px;line-height:24px;color:#ffffff;letter-spacing:1.8px;right:180.20px;">3<span style="letter-spacing:0.3px">7</span></div>
<div class="t" style="top:686.28px;font-size:24px;line-height:24px;color:#ffffff;letter-spacing:1.8px;right:94.40px;"><span style="letter-spacing:0.3px">2</span><span style="letter-spacing:0.3px">.</span><svg width="15.15" height="17.00" style="vertical-align:baseline" viewBox="0 0 15.15 17.00"><polygon points="7.40,1.00 9.80,1.00 9.80,17.00 7.40,17.00 7.40,4.10 5.10,6.20 3.80,4.70" fill="#ffffff"/></svg><span style="letter-spacing:0.3px">0</span></div>
<div class="r" style="left:687px;top:718px;width:105px;height:42px;background:#940000;"></div>
<div class="r" style="left:1731px;top:718px;width:86px;height:42px;background:#ff0000;"></div>
<div class="r" style="left:11px;top:760px;width:1963px;height:1px;background:#474747;"></div>
<div class="t" style="top:729.28px;font-size:24px;line-height:24px;color:#ffc000;letter-spacing:0.869px;word-spacing:-2.28px;left:27.38px;">Carbon &amp; Graphite Products</div>
<div class="t" style="top:729.28px;font-size:24px;line-height:24px;color:#ffc000;letter-spacing:1.8px;right:1427.70px;"><span style="letter-spacing:0.3px">4</span></div>
<div class="t" style="top:729.28px;font-size:24px;line-height:24px;color:#c8c8c8;letter-spacing:1.8px;right:1323.20px;">4<svg width="15.15" height="17.00" style="vertical-align:baseline" viewBox="0 0 15.15 17.00"><polygon points="7.40,1.00 9.80,1.00 9.80,17.00 7.40,17.00 7.40,4.10 5.10,6.20 3.80,4.70" fill="#c8c8c8"/></svg><span style="letter-spacing:0.3px">5</span></div>
<div class="t" style="top:729.28px;font-size:24px;line-height:24px;color:#ffffff;letter-spacing:1.8px;right:1204.70px;"><svg width="15.15" height="17.00" style="vertical-align:baseline" viewBox="0 0 15.15 17.00"><polygon points="7.40,1.00 9.80,1.00 9.80,17.00 7.40,17.00 7.40,4.10 5.10,6.20 3.80,4.70" fill="#ffffff"/></svg><span style="letter-spacing:0.3px">2</span><span style="letter-spacing:0.3px">.</span><span style="letter-spacing:0.3px">4</span></div>
<div class="t" style="top:729.28px;font-size:24px;line-height:24px;color:#ffffff;letter-spacing:1.8px;right:1095.40px;"><svg width="13.65" height="17.00" style="vertical-align:baseline" viewBox="0 0 13.65 17.00"><polygon points="7.40,1.00 9.80,1.00 9.80,17.00 7.40,17.00 7.40,4.10 5.10,6.20 3.80,4.70" fill="#ffffff"/></svg><span style="letter-spacing:0.3px">.</span><span style="letter-spacing:0.3px">3</span></div>
<div class="t" style="top:729.28px;font-size:24px;line-height:24px;color:#ffffff;letter-spacing:1.8px;right:999.90px;"><span style="letter-spacing:0.3px">2</span></div>
<div class="t" style="top:729.28px;font-size:24px;line-height:24px;color:#f5a070;letter-spacing:1.8px;right:773.80px;"><span style="letter-spacing:0.3px">2</span><span style="letter-spacing:0.3px">.</span><span style="letter-spacing:0.3px">8</span></div>
<div class="t" style="top:729.28px;font-size:24px;line-height:24px;color:#f5a070;letter-spacing:1.8px;right:688.40px;">5<span style="letter-spacing:0.3px">0</span></div>
<div class="t" style="top:729.28px;font-size:24px;line-height:24px;color:#ffc000;letter-spacing:1.8px;right:477.50px;"><svg width="15.15" height="17.00" style="vertical-align:baseline" viewBox="0 0 15.15 17.00"><polygon points="7.40,1.00 9.80,1.00 9.80,17.00 7.40,17.00 7.40,4.10 5.10,6.20 3.80,4.70" fill="#ffc000"/></svg><span style="letter-spacing:0.3px">4</span></div>
<div class="t" style="top:729.28px;font-size:24px;line-height:24px;color:#ffc000;letter-spacing:1.8px;right:406.40px;"><span style="letter-spacing:0.3px">2</span></div>
<div class="t" style="top:729.28px;font-size:24px;line-height:24px;color:#ffffff;letter-spacing:1.8px;right:180.20px;"><svg width="15.15" height="17.00" style="vertical-align:baseline" viewBox="0 0 15.15 17.00"><polygon points="7.40,1.00 9.80,1.00 9.80,17.00 7.40,17.00 7.40,4.10 5.10,6.20 3.80,4.70" fill="#ffffff"/></svg><svg width="15.15" height="17.00" style="vertical-align:baseline" viewBox="0 0 15.15 17.00"><polygon points="7.40,1.00 9.80,1.00 9.80,17.00 7.40,17.00 7.40,4.10 5.10,6.20 3.80,4.70" fill="#ffffff"/></svg><span style="letter-spacing:0.3px">5</span></div>
<div class="t" style="top:729.28px;font-size:24px;line-height:24px;color:#ffffff;letter-spacing:1.8px;right:94.40px;"><svg width="13.65" height="17.00" style="vertical-align:baseline" viewBox="0 0 13.65 17.00"><polygon points="7.40,1.00 9.80,1.00 9.80,17.00 7.40,17.00 7.40,4.10 5.10,6.20 3.80,4.70" fill="#ffffff"/></svg><span style="letter-spacing:0.3px">.</span>8<span style="letter-spacing:0.3px">0</span></div>
<div class="r" style="left:11px;top:803px;width:1963px;height:1px;background:#474747;"></div>
<div class="t" style="top:772.28px;font-size:24px;line-height:24px;color:#ffc000;letter-spacing:0.760px;word-spacing:-2.28px;left:28.49px;">Wholesale - Electric Equipment</div>
<div class="t" style="top:772.28px;font-size:24px;line-height:24px;color:#ffc000;letter-spacing:1.8px;right:1427.70px;"><svg width="15.15" height="17.00" style="vertical-align:baseline" viewBox="0 0 15.15 17.00"><polygon points="7.40,1.00 9.80,1.00 9.80,17.00 7.40,17.00 7.40,4.10 5.10,6.20 3.80,4.70" fill="#ffc000"/></svg><span style="letter-spacing:0.3px">5</span></div>
<div class="t" style="top:772.28px;font-size:24px;line-height:24px;color:#c8c8c8;letter-spacing:1.8px;right:1323.20px;">49<span style="letter-spacing:0.3px">5</span></div>
<div class="t" style="top:772.28px;font-size:24px;line-height:24px;color:#ffffff;letter-spacing:1.8px;right:1204.70px;"><span style="letter-spacing:0.3px">3</span><span style="letter-spacing:0.3px">.</span><span style="letter-spacing:0.3px">2</span></div>
<div class="t" style="top:772.28px;font-size:24px;line-height:24px;color:#ffffff;letter-spacing:1.8px;right:1095.40px;"><svg width="13.65" height="17.00" style="vertical-align:baseline" viewBox="0 0 13.65 17.00"><polygon points="7.40,1.00 9.80,1.00 9.80,17.00 7.40,17.00 7.40,4.10 5.10,6.20 3.80,4.70" fill="#ffffff"/></svg><span style="letter-spacing:0.3px">.</span><span style="letter-spacing:0.3px">4</span></div>
<div class="t" style="top:772.28px;font-size:24px;line-height:24px;color:#ffffff;letter-spacing:1.8px;right:999.90px;">-<svg width="15.15" height="17.00" style="vertical-align:baseline" viewBox="0 0 15.15 17.00"><polygon points="7.40,1.00 9.80,1.00 9.80,17.00 7.40,17.00 7.40,4.10 5.10,6.20 3.80,4.70" fill="#ffffff"/></svg><span style="letter-spacing:0.3px">3</span></div>
<div class="t" style="top:772.28px;font-size:24px;line-height:24px;color:#f5a070;letter-spacing:1.8px;right:773.80px;"><svg width="13.65" height="17.00" style="vertical-align:baseline" viewBox="0 0 13.65 17.00"><polygon points="7.40,1.00 9.80,1.00 9.80,17.00 7.40,17.00 7.40,4.10 5.10,6.20 3.80,4.70" fill="#f5a070"/></svg><span style="letter-spacing:0.3px">.</span><span style="letter-spacing:0.3px">6</span></div>
<div class="t" style="top:772.28px;font-size:24px;line-height:24px;color:#f5a070;letter-spacing:1.8px;right:688.40px;">2<span style="letter-spacing:0.3px">6</span></div>
<div class="t" style="top:772.28px;font-size:24px;line-height:24px;color:#ffc000;letter-spacing:1.8px;right:477.50px;"><svg width="15.15" height="17.00" style="vertical-align:baseline" viewBox="0 0 15.15 17.00"><polygon points="7.40,1.00 9.80,1.00 9.80,17.00 7.40,17.00 7.40,4.10 5.10,6.20 3.80,4.70" fill="#ffc000"/></svg><span style="letter-spacing:0.3px">4</span></div>
<div class="t" style="top:772.28px;font-size:24px;line-height:24px;color:#ffc000;letter-spacing:1.8px;right:406.40px;"><span style="letter-spacing:0.3px">2</span></div>
<div class="t" style="top:772.28px;font-size:24px;line-height:24px;color:#ffffff;letter-spacing:1.8px;right:180.20px;"><svg width="15.15" height="17.00" style="vertical-align:baseline" viewBox="0 0 15.15 17.00"><polygon points="7.40,1.00 9.80,1.00 9.80,17.00 7.40,17.00 7.40,4.10 5.10,6.20 3.80,4.70" fill="#ffffff"/></svg><span style="letter-spacing:0.3px">5</span></div>
<div class="t" style="top:772.28px;font-size:24px;line-height:24px;color:#ffffff;letter-spacing:1.8px;right:94.40px;"><svg width="13.65" height="17.00" style="vertical-align:baseline" viewBox="0 0 13.65 17.00"><polygon points="7.40,1.00 9.80,1.00 9.80,17.00 7.40,17.00 7.40,4.10 5.10,6.20 3.80,4.70" fill="#ffffff"/></svg><span style="letter-spacing:0.3px">.</span><svg width="15.15" height="17.00" style="vertical-align:baseline" viewBox="0 0 15.15 17.00"><polygon points="7.40,1.00 9.80,1.00 9.80,17.00 7.40,17.00 7.40,4.10 5.10,6.20 3.80,4.70" fill="#ffffff"/></svg><span style="letter-spacing:0.3px">0</span></div>
<div class="r" style="left:687px;top:804px;width:105px;height:42px;background:#960000;"></div>
<div class="r" style="left:11px;top:846px;width:1963px;height:1px;background:#474747;"></div>
<div class="t" style="top:815.28px;font-size:24px;line-height:24px;color:#ffc000;letter-spacing:1.061px;word-spacing:-2.28px;left:28.06px;">Textile Machinery</div>
<div class="t" style="top:815.28px;font-size:24px;line-height:24px;color:#ffc000;letter-spacing:1.8px;right:1427.70px;"><span style="letter-spacing:0.3px">4</span></div>
<div class="t" style="top:815.28px;font-size:24px;line-height:24px;color:#c8c8c8;letter-spacing:1.8px;right:1323.20px;">34<span style="letter-spacing:0.3px">6</span></div>
<div class="t" style="top:815.28px;font-size:24px;line-height:24px;color:#ffffff;letter-spacing:1.8px;right:1204.70px;"><svg width="15.15" height="17.00" style="vertical-align:baseline" viewBox="0 0 15.15 17.00"><polygon points="7.40,1.00 9.80,1.00 9.80,17.00 7.40,17.00 7.40,4.10 5.10,6.20 3.80,4.70" fill="#ffffff"/></svg><span style="letter-spacing:0.3px">4</span><span style="letter-spacing:0.3px">.</span><span style="letter-spacing:0.3px">0</span></div>
<div class="t" style="top:815.28px;font-size:24px;line-height:24px;color:#ffffff;letter-spacing:1.8px;right:1095.40px;"><span style="letter-spacing:0.3px">0</span><span style="letter-spacing:0.3px">.</span><span style="letter-spacing:0.3px">3</span></div>
<div class="t" style="top:815.28px;font-size:24px;line-height:24px;color:#ffffff;letter-spacing:1.8px;right:999.90px;"><span style="letter-spacing:0.3px">2</span></div>
<div class="t" style="top:815.28px;font-size:24px;line-height:24px;color:#f5a070;letter-spacing:1.8px;right:773.80px;"><svg width="13.65" height="17.00" style="vertical-align:baseline" viewBox="0 0 13.65 17.00"><polygon points="7.40,1.00 9.80,1.00 9.80,17.00 7.40,17.00 7.40,4.10 5.10,6.20 3.80,4.70" fill="#f5a070"/></svg><span style="letter-spacing:0.3px">.</span><span style="letter-spacing:0.3px">8</span></div>
<div class="t" style="top:815.28px;font-size:24px;line-height:24px;color:#f5a070;letter-spacing:1.8px;right:688.40px;">-<span style="letter-spacing:0.3px">8</span></div>
<div class="t" style="top:815.28px;font-size:24px;line-height:24px;color:#ffc000;letter-spacing:1.8px;right:477.50px;"><svg width="15.15" height="17.00" style="vertical-align:baseline" viewBox="0 0 15.15 17.00"><polygon points="7.40,1.00 9.80,1.00 9.80,17.00 7.40,17.00 7.40,4.10 5.10,6.20 3.80,4.70" fill="#ffc000"/></svg><span style="letter-spacing:0.3px">3</span></div>
<div class="t" style="top:815.28px;font-size:24px;line-height:24px;color:#ff0000;letter-spacing:1.8px;right:406.40px;"><span style="letter-spacing:0.3px">6</span></div>
<div class="t" style="top:815.28px;font-size:24px;line-height:24px;color:#ffffff;letter-spacing:1.8px;right:180.20px;"><svg width="15.15" height="17.00" style="vertical-align:baseline" viewBox="0 0 15.15 17.00"><polygon points="7.40,1.00 9.80,1.00 9.80,17.00 7.40,17.00 7.40,4.10 5.10,6.20 3.80,4.70" fill="#ffffff"/></svg><span style="letter-spacing:0.3px">8</span></div>
<div class="t" style="top:815.28px;font-size:24px;line-height:24px;color:#ffffff;letter-spacing:1.8px;right:94.40px;"><svg width="13.65" height="17.00" style="vertical-align:baseline" viewBox="0 0 13.65 17.00"><polygon points="7.40,1.00 9.80,1.00 9.80,17.00 7.40,17.00 7.40,4.10 5.10,6.20 3.80,4.70" fill="#ffffff"/></svg><span style="letter-spacing:0.3px">.</span>8<span style="letter-spacing:0.3px">9</span></div>
<div class="r" style="left:10px;top:288px;width:1px;height:563px;background:#474747;"></div>
<div class="r" style="left:1124px;top:288px;width:1px;height:563px;background:#474747;"></div>
<div class="r" style="left:1436px;top:288px;width:1px;height:563px;background:#474747;"></div>
<div class="r" style="left:1718px;top:288px;width:1px;height:563px;background:#474747;"></div>
<div class="r" style="left:1974px;top:288px;width:1px;height:563px;background:#474747;"></div>
<svg style="position:absolute;left:0;top:0" width="1993" height="851" viewBox="0 0 1993 851"><polyline points="1016.87,321.13 1020.10,317.80 1024.14,314.77 1028.18,316.28 1033.23,311.03 1036.26,310.73 1039.29,311.74 1042.83,310.73 1046.36,312.75 1050.40,313.05 1054.44,315.07 1058.48,315.07 1062.53,313.76 1068.59,314.06 1071.62,312.24 1076.67,306.18 1079.70,304.67 1083.74,304.67 1086.77,300.63 1089.80,306.18 1094.85,302.65 1098.89,302.65 1103.94,295.88" fill="none" stroke="#ffffff" stroke-width="2.2" stroke-linejoin="round" stroke-linecap="round"/><polygon points="1016.87,317.33 1020.67,321.13 1016.87,324.93 1013.07,321.13" fill="#22cc55"/><polygon points="1103.94,292.08 1107.74,295.88 1103.94,299.68 1100.14,295.88" fill="#ff0000"/><polyline points="1016.06,360.53 1024.14,363.76 1028.18,362.24 1031.72,362.24 1035.25,359.92 1039.29,362.24 1043.33,357.19 1048.38,353.66 1053.43,351.84 1056.97,346.08 1060.51,348.40 1065.05,350.12 1071.62,354.67 1075.66,354.16 1080.71,349.62 1083.23,348.61 1089.80,339.72 1096.87,342.04 1100.91,339.01 1105.45,340.02" fill="none" stroke="#ffffff" stroke-width="2.2" stroke-linejoin="round" stroke-linecap="round"/><polygon points="1024.14,359.96 1027.94,363.76 1024.14,367.56 1020.34,363.76" fill="#22cc55"/><polygon points="1100.91,335.21 1104.71,339.01 1100.91,342.81 1097.11,339.01" fill="#ff0000"/><polyline points="1016.06,400.46 1020.61,397.23 1024.14,390.97 1028.18,403.80 1032.22,406.12 1035.76,406.53 1039.09,407.13 1042.83,395.72 1046.36,397.03 1050.40,395.72 1053.94,393.70 1056.97,399.05 1061.52,395.21 1065.05,395.21 1068.08,388.14 1071.62,386.12 1076.16,382.89 1079.70,389.15 1083.23,391.17 1087.78,384.61 1091.31,385.62 1093.03,382.08 1096.87,382.59 1100.91,388.95 1105.45,383.60" fill="none" stroke="#ffffff" stroke-width="2.2" stroke-linejoin="round" stroke-linecap="round"/><polygon points="1039.09,403.33 1042.89,407.13 1039.09,410.93 1035.29,407.13" fill="#22cc55"/><polygon points="1093.03,378.28 1096.83,382.08 1093.03,385.88 1089.23,382.08" fill="#ff0000"/><polyline points="1016.06,430.77 1020.10,433.09 1023.13,432.08 1028.18,436.12 1030.71,425.01 1034.24,428.04 1038.79,431.07 1045.86,450.26 1049.90,440.16 1053.94,432.59 1061.01,438.65 1064.55,437.13 1068.08,440.67 1072.12,440.16 1076.16,445.92 1079.70,443.70 1083.23,445.92 1089.80,429.56 1097.88,437.13 1101.41,435.11 1105.45,438.14" fill="none" stroke="#ffffff" stroke-width="2.2" stroke-linejoin="round" stroke-linecap="round"/><polygon points="1045.86,446.46 1049.66,450.26 1045.86,454.06 1042.06,450.26" fill="#22cc55"/><polygon points="1030.71,421.21 1034.51,425.01 1030.71,428.81 1026.91,425.01" fill="#ff0000"/><polyline points="1016.87,493.13 1020.61,492.12 1024.14,492.83 1028.18,490.51 1032.22,490.30 1039.29,490.51 1042.32,489.29 1046.36,485.76 1050.40,484.24 1053.94,482.73 1057.47,483.74 1065.56,483.74 1070.61,482.22 1075.66,480.71 1079.70,477.68 1083.23,477.98 1086.77,472.93 1090.30,475.96 1094.85,474.95 1098.89,474.65 1103.94,467.88" fill="none" stroke="#ffffff" stroke-width="2.2" stroke-linejoin="round" stroke-linecap="round"/><polygon points="1016.87,489.33 1020.67,493.13 1016.87,496.93 1013.07,493.13" fill="#22cc55"/><polygon points="1103.94,464.08 1107.74,467.88 1103.94,471.68 1100.14,467.88" fill="#ff0000"/><polyline points="1016.06,535.25 1020.61,531.92 1023.64,534.24 1027.68,525.66 1031.72,536.26 1035.25,531.21 1039.29,528.48 1042.83,530.20 1045.86,536.26 1049.39,536.26 1053.43,528.89 1056.46,530.20 1061.01,524.65 1065.05,527.17 1071.11,522.42 1075.66,515.05 1079.70,516.06 1081.92,511.01 1086.77,515.56 1089.80,515.05 1093.84,517.07 1100.91,524.14 1105.45,523.13" fill="none" stroke="#ffffff" stroke-width="2.2" stroke-linejoin="round" stroke-linecap="round"/><polygon points="1045.86,532.46 1049.66,536.26 1045.86,540.06 1042.06,536.26" fill="#22cc55"/><polygon points="1081.92,507.21 1085.72,511.01 1081.92,514.81 1078.12,511.01" fill="#ff0000"/><polyline points="1016.06,578.32 1020.61,575.80 1024.14,576.81 1027.98,579.13 1031.72,578.83 1035.25,575.09 1038.79,575.09 1042.83,576.81 1046.36,576.81 1050.40,573.78 1053.94,569.03 1057.47,567.72 1061.52,568.02 1065.56,564.69 1076.16,564.69 1079.19,560.95 1082.73,560.14 1087.27,567.21 1094.34,561.96 1098.89,561.66 1103.94,554.08" fill="none" stroke="#ffffff" stroke-width="2.2" stroke-linejoin="round" stroke-linecap="round"/><polygon points="1027.98,575.33 1031.78,579.13 1027.98,582.93 1024.18,579.13" fill="#22cc55"/><polygon points="1103.94,550.28 1107.74,554.08 1103.94,557.88 1100.14,554.08" fill="#ff0000"/><polyline points="1016.06,617.92 1020.10,617.92 1023.64,622.26 1027.98,621.96 1032.22,622.26 1038.79,620.75 1043.33,617.72 1046.36,617.72 1050.40,615.70 1054.44,617.21 1057.47,615.70 1061.52,612.67 1065.56,610.14 1071.62,603.07 1076.16,605.09 1079.19,602.06 1084.75,600.55 1087.27,601.05 1090.30,605.09 1093.84,603.07 1097.88,604.38 1103.94,597.01" fill="none" stroke="#ffffff" stroke-width="2.2" stroke-linejoin="round" stroke-linecap="round"/><polygon points="1027.98,618.16 1031.78,621.96 1027.98,625.76 1024.18,621.96" fill="#22cc55"/><polygon points="1103.94,593.21 1107.74,597.01 1103.94,600.81 1100.14,597.01" fill="#ff0000"/><polyline points="1016.06,666.55 1021.11,660.79 1027.68,664.12 1031.72,663.11 1035.25,664.12 1039.29,662.81 1043.33,662.81 1045.86,665.13 1049.90,660.79 1056.97,663.11 1061.01,659.07 1065.05,658.06 1068.08,660.28 1076.16,649.98 1079.70,649.98 1083.23,647.15 1086.77,640.89 1089.80,642.91 1093.84,642.91 1097.88,640.89 1103.94,640.08" fill="none" stroke="#ffffff" stroke-width="2.2" stroke-linejoin="round" stroke-linecap="round"/><polygon points="1045.86,661.33 1049.66,665.13 1045.86,668.93 1042.06,665.13" fill="#22cc55"/><polygon points="1103.94,636.28 1107.74,640.08 1103.94,643.88 1100.14,640.08" fill="#ff0000"/><polyline points="1016.87,683.01 1020.10,686.04 1023.64,692.61 1027.68,695.13 1032.22,699.47 1038.28,700.18 1042.83,703.21 1049.90,693.11 1053.43,699.17 1056.97,701.19 1064.55,698.87 1068.08,701.70 1075.66,704.93 1083.23,704.73 1086.77,701.70 1090.81,703.92 1103.94,707.96" fill="none" stroke="#ffffff" stroke-width="2.2" stroke-linejoin="round" stroke-linecap="round"/><polygon points="1103.94,704.16 1107.74,707.96 1103.94,711.76 1100.14,707.96" fill="#22cc55"/><polygon points="1016.87,679.21 1020.67,683.01 1016.87,686.81 1013.07,683.01" fill="#ff0000"/><polyline points="1016.06,749.11 1020.61,747.80 1027.68,749.82 1031.72,749.82 1035.25,751.13 1039.29,750.83 1042.83,749.82 1049.39,752.34 1052.93,751.13 1056.46,752.34 1065.56,748.51 1069.60,748.51 1074.65,746.28 1079.70,744.46 1083.23,744.46 1089.80,740.73 1098.38,734.97 1100.91,726.89 1103.94,725.88" fill="none" stroke="#ffffff" stroke-width="2.2" stroke-linejoin="round" stroke-linecap="round"/><polygon points="1052.93,747.33 1056.73,751.13 1052.93,754.93 1049.13,751.13" fill="#22cc55"/><polygon points="1103.94,722.08 1107.74,725.88 1103.94,729.68 1100.14,725.88" fill="#ff0000"/><polyline points="1016.87,793.96 1021.11,787.70 1027.68,787.70 1031.72,789.92 1035.25,785.17 1038.79,787.19 1045.86,773.76 1049.90,774.77 1053.94,780.12 1057.47,774.77 1061.01,774.77 1065.05,784.16 1068.08,784.87 1075.66,781.13 1079.19,776.59 1082.73,778.10 1086.26,776.08 1090.30,779.11 1093.84,775.07 1098.89,772.04 1100.91,769.01 1105.45,773.35" fill="none" stroke="#ffffff" stroke-width="2.2" stroke-linejoin="round" stroke-linecap="round"/><polygon points="1016.87,790.16 1020.67,793.96 1016.87,797.76 1013.07,793.96" fill="#22cc55"/><polygon points="1100.91,765.21 1104.71,769.01 1100.91,772.81 1097.11,769.01" fill="#ff0000"/><polyline points="1016.63,836.03 1023.80,837.13 1028.22,836.85 1034.85,834.92 1039.27,836.30 1042.85,832.99 1045.89,834.92 1050.86,834.92 1053.62,833.54 1057.21,828.85 1063.01,826.64 1067.98,822.77 1071.84,823.05 1079.02,818.91 1082.89,821.12 1087.03,814.77 1090.07,815.87 1099.45,812.83 1103.87,812.01" fill="none" stroke="#ffffff" stroke-width="2.2" stroke-linejoin="round" stroke-linecap="round"/><polygon points="1023.80,833.33 1027.60,837.13 1023.80,840.93 1020.00,837.13" fill="#22cc55"/><polygon points="1103.87,808.21 1107.67,812.01 1103.87,815.81 1100.07,812.01" fill="#ff0000"/><rect x="1327" y="321" width="4" height="1" fill="#22cc55"/><rect x="1331" y="296" width="3" height="26" fill="#ff0000"/><path d="M1334,322V314H1338V322ZM1338,322V316H1342V322ZM1342,322V312H1345V322ZM1345,322V317H1349V322ZM1349,322V320H1353V322ZM1353,322V317H1356V322ZM1356,322V301H1360V322ZM1360,322V313H1364V322ZM1364,322V302H1367V322ZM1367,322V315H1371V322ZM1371,322V319H1375V322ZM1375,322V317H1378V322ZM1378,322V318H1382V322ZM1382,322V317H1386V322ZM1386,322V310H1390V322ZM1390,322V314H1393V322ZM1393,322V310H1397V322ZM1397,322V310H1401V322ZM1401,322V310H1404V322ZM1404,322V312H1408V322ZM1408,322V309H1412V322ZM1412,322V301H1415V322ZM1415,322V311H1419V322Z" fill="#f9a06c"/><rect x="1353" y="364" width="3" height="1" fill="#22cc55"/><rect x="1360" y="339" width="4" height="26" fill="#ff0000"/><path d="M1327,365V364H1331V365ZM1331,365V364H1334V365ZM1334,365V364H1338V365ZM1338,365V363H1342V365ZM1342,365V363H1345V365ZM1345,365V364H1349V365ZM1349,365V364H1353V365ZM1356,365V364H1360V365ZM1364,365V357H1367V365ZM1367,365V355H1371V365ZM1371,365V360H1375V365ZM1375,365V361H1378V365ZM1378,365V359H1382V365ZM1382,365V361H1386V365ZM1386,365V363H1390V365ZM1390,365V359H1393V365ZM1393,365V361H1397V365ZM1397,365V360H1401V365ZM1401,365V357H1404V365ZM1404,365V357H1408V365ZM1408,365V361H1412V365ZM1412,365V359H1415V365ZM1415,365V359H1419V365Z" fill="#f9a06c"/><rect x="1345" y="382" width="4" height="26" fill="#ff0000"/><rect x="1404" y="407" width="4" height="1" fill="#22cc55"/><path d="M1327,408V395H1331V408ZM1331,408V392H1334V408ZM1334,408V388H1338V408ZM1338,408V383H1342V408ZM1342,408V384H1345V408ZM1349,408V394H1353V408ZM1353,408V384H1356V408ZM1356,408V385H1360V408ZM1360,408V391H1364V408ZM1364,408V393H1367V408ZM1367,408V402H1371V408ZM1371,408V402H1375V408ZM1375,408V389H1378V408ZM1378,408V391H1382V408ZM1382,408V399H1386V408ZM1386,408V404H1390V408ZM1390,408V395H1393V408ZM1393,408V399H1397V408ZM1397,408V395H1401V408ZM1401,408V402H1404V408ZM1408,408V404H1412V408ZM1412,408V400H1415V408ZM1415,408V401H1419V408Z" fill="#f9a06c"/><rect x="1356" y="425" width="4" height="26" fill="#ff0000"/><rect x="1408" y="450" width="4" height="1" fill="#22cc55"/><path d="M1327,451V444H1331V451ZM1331,451V449H1334V451ZM1334,451V445H1338V451ZM1338,451V442H1342V451ZM1342,451V437H1345V451ZM1345,451V441H1349V451ZM1349,451V444H1353V451ZM1353,451V446H1356V451ZM1360,451V433H1364V451ZM1364,451V443H1367V451ZM1367,451V445H1371V451ZM1371,451V442H1375V451ZM1375,451V441H1378V451ZM1378,451V437H1382V451ZM1382,451V441H1386V451ZM1386,451V445H1390V451ZM1390,451V441H1393V451ZM1393,451V445H1397V451ZM1397,451V443H1401V451ZM1401,451V443H1404V451ZM1404,451V448H1408V451ZM1412,451V450H1415V451ZM1415,451V444H1419V451Z" fill="#f9a06c"/><rect x="1382" y="493" width="4" height="1" fill="#22cc55"/><rect x="1397" y="468" width="4" height="26" fill="#ff0000"/><path d="M1327,494V481H1331V494ZM1331,494V490H1334V494ZM1334,494V489H1338V494ZM1338,494V486H1342V494ZM1342,494V480H1345V494ZM1345,494V488H1349V494ZM1349,494V486H1353V494ZM1353,494V486H1356V494ZM1356,494V479H1360V494ZM1360,494V485H1364V494ZM1364,494V483H1367V494ZM1367,494V475H1371V494ZM1371,494V490H1375V494ZM1375,494V491H1378V494ZM1378,494V492H1382V494ZM1386,494V489H1390V494ZM1390,494V488H1393V494ZM1393,494V477H1397V494ZM1401,494V473H1404V494ZM1404,494V483H1408V494ZM1408,494V490H1412V494ZM1412,494V488H1415V494ZM1415,494V487H1419V494Z" fill="#f9a06c"/><rect x="1401" y="511" width="3" height="26" fill="#ff0000"/><rect x="1415" y="536" width="4" height="1" fill="#22cc55"/><path d="M1327,537V535H1331V537ZM1331,537V535H1334V537ZM1334,537V535H1338V537ZM1338,537V532H1342V537ZM1342,537V531H1345V537ZM1345,537V535H1349V537ZM1349,537V534H1353V537ZM1353,537V535H1356V537ZM1356,537V531H1360V537ZM1360,537V532H1364V537ZM1364,537V535H1367V537ZM1367,537V534H1371V537ZM1371,537V536H1375V537ZM1375,537V535H1378V537ZM1378,537V535H1382V537ZM1382,537V536H1386V537ZM1386,537V534H1390V537ZM1390,537V536H1393V537ZM1393,537V536H1397V537ZM1397,537V535H1401V537ZM1404,537V536H1408V537ZM1408,537V536H1412V537ZM1412,537V536H1415V537Z" fill="#f9a06c"/><rect x="1375" y="554" width="3" height="26" fill="#ff0000"/><rect x="1386" y="579" width="4" height="1" fill="#22cc55"/><path d="M1327,580V558H1331V580ZM1331,580V578H1334V580ZM1334,580V571H1338V580ZM1338,580V561H1342V580ZM1342,580V561H1345V580ZM1345,580V561H1349V580ZM1349,580V561H1353V580ZM1353,580V576H1356V580ZM1356,580V560H1360V580ZM1360,580V565H1364V580ZM1364,580V563H1367V580ZM1367,580V573H1371V580ZM1371,580V572H1375V580ZM1378,580V559H1382V580ZM1382,580V574H1386V580ZM1390,580V571H1393V580ZM1393,580V564H1397V580ZM1397,580V562H1401V580ZM1401,580V560H1404V580ZM1404,580V573H1408V580ZM1408,580V577H1412V580ZM1412,580V576H1415V580ZM1415,580V569H1419V580Z" fill="#f9a06c"/><rect x="1327" y="622" width="4" height="1" fill="#22cc55"/><rect x="1415" y="597" width="4" height="26" fill="#ff0000"/><path d="M1331,623V617H1334V623ZM1334,623V618H1338V623ZM1338,623V616H1342V623ZM1342,623V616H1345V623ZM1345,623V618H1349V623ZM1349,623V615H1353V623ZM1353,623V620H1356V623ZM1356,623V617H1360V623ZM1360,623V617H1364V623ZM1364,623V612H1367V623ZM1367,623V615H1371V623ZM1371,623V616H1375V623ZM1375,623V611H1378V623ZM1378,623V609H1382V623ZM1382,623V613H1386V623ZM1386,623V612H1390V623ZM1390,623V610H1393V623ZM1393,623V609H1397V623ZM1397,623V609H1401V623ZM1401,623V611H1404V623ZM1404,623V610H1408V623ZM1408,623V605H1412V623ZM1412,623V610H1415V623Z" fill="#f9a06c"/><rect x="1353" y="665" width="3" height="1" fill="#22cc55"/><rect x="1367" y="640" width="4" height="26" fill="#ff0000"/><path d="M1327,666V665H1331V666ZM1331,666V658H1334V666ZM1334,666V661H1338V666ZM1338,666V658H1342V666ZM1342,666V656H1345V666ZM1345,666V663H1349V666ZM1349,666V665H1353V666ZM1356,666V665H1360V666ZM1360,666V663H1364V666ZM1364,666V665H1367V666ZM1371,666V664H1375V666ZM1375,666V662H1378V666ZM1378,666V662H1382V666ZM1382,666V663H1386V666ZM1386,666V662H1390V666ZM1390,666V660H1393V666ZM1393,666V654H1397V666ZM1397,666V657H1401V666ZM1401,666V660H1404V666ZM1404,666V661H1408V666ZM1408,666V649H1412V666ZM1412,666V652H1415V666ZM1415,666V659H1419V666Z" fill="#f9a06c"/><rect x="1342" y="683" width="3" height="26" fill="#ff0000"/><rect x="1393" y="708" width="4" height="1" fill="#22cc55"/><path d="M1327,709V691H1331V709ZM1331,709V700H1334V709ZM1334,709V695H1338V709ZM1338,709V685H1342V709ZM1345,709V694H1349V709ZM1349,709V687H1353V709ZM1353,709V696H1356V709ZM1356,709V699H1360V709ZM1360,709V701H1364V709ZM1364,709V703H1367V709ZM1367,709V706H1371V709ZM1371,709V693H1375V709ZM1375,709V694H1378V709ZM1378,709V702H1382V709ZM1382,709V708H1386V709ZM1386,709V705H1390V709ZM1390,709V704H1393V709ZM1397,709V707H1401V709ZM1401,709V707H1404V709ZM1404,709V706H1408V709ZM1408,709V707H1412V709ZM1412,709V705H1415V709ZM1415,709V705H1419V709Z" fill="#f9a06c"/><rect x="1353" y="751" width="3" height="1" fill="#22cc55"/><rect x="1401" y="726" width="3" height="26" fill="#ff0000"/><path d="M1327,752V750H1331V752ZM1331,752V750H1334V752ZM1334,752V750H1338V752ZM1338,752V750H1342V752ZM1342,752V750H1345V752ZM1345,752V751H1349V752ZM1349,752V751H1353V752ZM1356,752V751H1360V752ZM1360,752V750H1364V752ZM1364,752V750H1367V752ZM1367,752V750H1371V752ZM1371,752V749H1375V752ZM1375,752V749H1378V752ZM1378,752V750H1382V752ZM1382,752V739H1386V752ZM1386,752V748H1390V752ZM1390,752V747H1393V752ZM1393,752V749H1397V752ZM1397,752V748H1401V752ZM1404,752V745H1408V752ZM1408,752V744H1412V752ZM1412,752V728H1415V752ZM1415,752V741H1419V752Z" fill="#f9a06c"/><rect x="1367" y="794" width="4" height="1" fill="#22cc55"/><rect x="1404" y="769" width="4" height="26" fill="#ff0000"/><path d="M1327,795V790H1331V795ZM1331,795V789H1334V795ZM1334,795V790H1338V795ZM1338,795V789H1342V795ZM1342,795V786H1345V795ZM1345,795V790H1349V795ZM1349,795V792H1353V795ZM1353,795V793H1356V795ZM1356,795V789H1360V795ZM1360,795V792H1364V795ZM1364,795V793H1367V795ZM1371,795V794H1375V795ZM1375,795V777H1378V795ZM1378,795V787H1382V795ZM1382,795V789H1386V795ZM1386,795V792H1390V795ZM1390,795V789H1393V795ZM1393,795V786H1397V795ZM1397,795V789H1401V795ZM1401,795V787H1404V795ZM1408,795V776H1412V795ZM1412,795V775H1415V795ZM1415,795V782H1419V795Z" fill="#f9a06c"/><rect x="1327" y="837" width="4" height="1" fill="#22cc55"/><rect x="1353" y="812" width="3" height="26" fill="#ff0000"/><path d="M1331,838V834H1334V838ZM1334,838V828H1338V838ZM1338,838V835H1342V838ZM1342,838V834H1345V838ZM1345,838V837H1349V838ZM1349,838V837H1353V838ZM1356,838V828H1360V838ZM1360,838V835H1364V838ZM1364,838V837H1367V838ZM1367,838V832H1371V838ZM1371,838V819H1375V838ZM1375,838V822H1378V838ZM1378,838V830H1382V838ZM1382,838V835H1386V838ZM1386,838V831H1390V838ZM1390,838V831H1393V838ZM1393,838V834H1397V838ZM1397,838V823H1401V838ZM1401,838V834H1404V838ZM1404,838V834H1408V838ZM1408,838V831H1412V838ZM1412,838V831H1415V838ZM1415,838V830H1419V838Z" fill="#f9a06c"/><path d="M1609,322V316H1613V322ZM1613,322V305H1616V322ZM1616,322V305H1620V322ZM1620,322V305H1624V322ZM1624,322V306H1627V322ZM1627,322V306H1631V322ZM1631,322V306H1635V322ZM1635,322V306H1639V322ZM1639,322V306H1642V322ZM1642,322V306H1646V322ZM1646,322V321H1650V322ZM1650,322V321H1653V322ZM1653,322V321H1657V322ZM1657,322V317H1661V322ZM1661,322V317H1664V322ZM1664,322V317H1668V322ZM1668,322V309H1672V322ZM1672,322V309H1675V322ZM1675,322V309H1679V322ZM1679,322V304H1683V322ZM1683,322V305H1686V322ZM1686,322V304H1690V322ZM1690,322V296H1694V322ZM1694,322V297H1697V322ZM1697,322V296H1701V322Z" fill="#ffc000"/><path d="M1609,355V350H1613V355ZM1613,355V351H1616V355ZM1616,355V350H1620V355ZM1620,355V350H1624V355ZM1624,355V350H1627V355ZM1627,355V349H1631V355ZM1631,355V354H1635V355ZM1635,355V354H1639V355ZM1639,355V354H1642V355ZM1675,355V350H1679V355ZM1679,355V351H1683V355ZM1683,355V351H1686V355ZM1686,355V340H1690V355ZM1690,355V342H1694V355ZM1694,355V341H1697V355ZM1697,355V339H1701V355Z" fill="#ffc000"/><path d="M1642,355V363H1646V355ZM1646,355V363H1650V355ZM1650,355V363H1653V355ZM1653,355V365H1657V355ZM1657,355V365H1661V355ZM1661,355V363H1664V355ZM1664,355V360H1668V355ZM1668,355V359H1672V355ZM1672,355V360H1675V355Z" fill="#cc0000"/><path d="M1609,395V387H1613V395ZM1613,395V388H1616V395ZM1616,395V388H1620V395ZM1620,395V394H1624V395ZM1624,395V394H1627V395ZM1627,395V394H1631V395ZM1675,395V392H1679V395ZM1679,395V391H1683V395ZM1683,395V390H1686V395ZM1686,395V383H1690V395ZM1690,395V384H1694V395ZM1694,395V384H1697V395ZM1697,395V382H1701V395Z" fill="#ffc000"/><path d="M1631,395V402H1635V395ZM1635,395V402H1639V395ZM1639,395V402H1642V395ZM1642,395V407H1646V395ZM1646,395V407H1650V395ZM1650,395V407H1653V395ZM1653,395V407H1657V395ZM1657,395V408H1661V395ZM1661,395V408H1664V395ZM1664,395V399H1668V395ZM1668,395V399H1672V395ZM1672,395V399H1675V395Z" fill="#cc0000"/><path d="M1609,440V425H1613V440ZM1613,440V425H1616V440ZM1616,440V425H1620V440ZM1620,440V431H1624V440ZM1624,440V431H1627V440ZM1627,440V431H1631V440ZM1631,440V434H1635V440ZM1635,440V434H1639V440ZM1639,440V434H1642V440ZM1686,440V434H1690V440ZM1690,440V433H1694V440ZM1694,440V432H1697V440ZM1697,440V426H1701V440Z" fill="#ffc000"/><path d="M1642,440V441H1646V440ZM1646,440V441H1650V440ZM1650,440V441H1653V440ZM1653,440V451H1657V440ZM1657,440V451H1661V440ZM1661,440V451H1664V440ZM1664,440V447H1668V440ZM1668,440V447H1672V440ZM1672,440V447H1675V440ZM1675,440V445H1679V440ZM1679,440V445H1683V440ZM1683,440V445H1686V440Z" fill="#cc0000"/><path d="M1609,489V476H1613V489ZM1613,489V477H1616V489ZM1616,489V477H1620V489ZM1620,489V481H1624V489ZM1624,489V483H1627V489ZM1627,489V483H1631V489ZM1631,489V488H1635V489ZM1664,489V484H1668V489ZM1668,489V482H1672V489ZM1672,489V482H1675V489ZM1675,489V475H1679V489ZM1679,489V473H1683V489ZM1683,489V473H1686V489ZM1686,489V470H1690V489ZM1690,489V468H1694V489ZM1694,489V468H1697V489ZM1697,489V470H1701V489Z" fill="#ffc000"/><path d="M1635,489V490H1639V489ZM1639,489V490H1642V489ZM1642,489V492H1646V489ZM1646,489V494H1650V489ZM1650,489V494H1653V489ZM1653,489V490H1657V489ZM1657,489V490H1661V489ZM1661,489V490H1664V489Z" fill="#cc0000"/><path d="M1609,536V530H1613V536ZM1613,536V530H1616V536ZM1616,536V530H1620V536ZM1620,536V530H1624V536ZM1624,536V534H1627V536ZM1627,536V534H1631V536ZM1631,536V534H1635V536ZM1635,536V534H1639V536ZM1639,536V534H1642V536ZM1646,536V533H1650V536ZM1650,536V533H1653V536ZM1653,536V532H1657V536ZM1657,536V533H1661V536ZM1661,536V533H1664V536ZM1664,536V532H1668V536ZM1668,536V526H1672V536ZM1672,536V526H1675V536ZM1675,536V523H1679V536ZM1679,536V521H1683V536ZM1683,536V521H1686V536ZM1686,536V517H1690V536ZM1690,536V519H1694V536ZM1694,536V519H1697V536ZM1697,536V511H1701V536Z" fill="#ffc000"/><path d="M1642,536V537H1646V536Z" fill="#cc0000"/><path d="M1686,568V560H1690V568ZM1690,568V560H1694V568ZM1694,568V560H1697V568ZM1697,568V554H1701V568Z" fill="#ffc000"/><path d="M1609,568V576H1613V568ZM1613,568V576H1616V568ZM1616,568V577H1620V568ZM1620,568V572H1624V568ZM1624,568V572H1627V568ZM1627,568V572H1631V568ZM1631,568V573H1635V568ZM1635,568V573H1639V568ZM1639,568V573H1642V568ZM1642,568V580H1646V568ZM1646,568V580H1650V568ZM1650,568V580H1653V568ZM1653,568V578H1657V568ZM1657,568V578H1661V568ZM1661,568V578H1664V568ZM1664,568V576H1668V568ZM1668,568V576H1672V568ZM1672,568V576H1675V568ZM1675,568V569H1679V568ZM1679,568V569H1683V568ZM1683,568V569H1686V568Z" fill="#cc0000"/><path d="M1609,611V608H1613V611ZM1668,611V610H1672V611ZM1672,611V610H1675V611ZM1679,611V604H1683V611ZM1683,611V604H1686V611ZM1686,611V605H1690V611ZM1690,611V598H1694V611ZM1694,611V598H1697V611ZM1697,611V597H1701V611Z" fill="#ffc000"/><path d="M1613,611V613H1616V611ZM1616,611V613H1620V611ZM1620,611V613H1624V611ZM1624,611V614H1627V611ZM1627,611V615H1631V611ZM1631,611V615H1635V611ZM1635,611V620H1639V611ZM1639,611V619H1642V611ZM1642,611V618H1646V611ZM1646,611V622H1650V611ZM1650,611V622H1653V611ZM1653,611V623H1657V611ZM1657,611V620H1661V611ZM1661,611V620H1664V611ZM1664,611V620H1668V611ZM1675,611V612H1679V611Z" fill="#cc0000"/><path d="M1609,658V652H1613V658ZM1613,658V650H1616V658ZM1616,658V650H1620V658ZM1620,658V651H1624V658ZM1624,658V655H1627V658ZM1627,658V655H1631V658ZM1631,658V655H1635V658ZM1668,658V657H1672V658ZM1672,658V657H1675V658ZM1675,658V657H1679V658ZM1679,658V649H1683V658ZM1683,658V649H1686V658ZM1686,658V647H1690V658ZM1690,658V643H1694V658ZM1694,658V643H1697V658ZM1697,658V640H1701V658Z" fill="#ffc000"/><path d="M1635,658V659H1639V658ZM1639,658V659H1642V658ZM1642,658V663H1646V658ZM1646,658V666H1650V658ZM1650,658V666H1653V658ZM1653,658V665H1657V658ZM1657,658V662H1661V658ZM1661,658V662H1664V658ZM1664,658V661H1668V658Z" fill="#cc0000"/><path d="M1609,702V686H1613V702ZM1613,702V689H1616V702ZM1616,702V689H1620V702ZM1620,702V689H1624V702ZM1624,702V701H1627V702ZM1627,702V701H1631V702ZM1631,702V701H1635V702ZM1642,702V701H1646V702ZM1653,702V701H1657V702ZM1668,702V701H1672V702ZM1672,702V701H1675V702ZM1675,702V701H1679V702ZM1679,702V689H1683V702ZM1683,702V689H1686V702ZM1686,702V690H1690V702ZM1690,702V683H1694V702ZM1694,702V683H1697V702ZM1697,702V683H1701V702Z" fill="#ffc000"/><path d="M1635,702V703H1639V702ZM1639,702V703H1642V702ZM1646,702V703H1650V702ZM1650,702V703H1653V702ZM1657,702V709H1661V702ZM1661,702V709H1664V702ZM1664,702V709H1668V702Z" fill="#cc0000"/><path d="M1690,738V728H1694V738ZM1694,738V728H1697V738ZM1697,738V726H1701V738Z" fill="#ffc000"/><path d="M1609,738V739H1613V738ZM1613,738V739H1616V738ZM1616,738V739H1620V738ZM1620,738V739H1624V738ZM1624,738V744H1627V738ZM1627,738V744H1631V738ZM1631,738V745H1635V738ZM1635,738V746H1639V738ZM1639,738V746H1642V738ZM1642,738V747H1646V738ZM1646,738V746H1650V738ZM1650,738V747H1653V738ZM1653,738V747H1657V738ZM1657,738V752H1661V738ZM1661,738V752H1664V738ZM1664,738V752H1668V738ZM1668,738V749H1672V738ZM1672,738V749H1675V738ZM1675,738V748H1679V738ZM1679,738V739H1683V738ZM1683,738V739H1686V738ZM1686,738V739H1690V738Z" fill="#cc0000"/><path d="M1609,787V779H1613V787ZM1613,787V779H1616V787ZM1616,787V779H1620V787ZM1620,787V781H1624V787ZM1624,787V784H1627V787ZM1627,787V784H1631V787ZM1631,787V784H1635V787ZM1635,787V784H1639V787ZM1639,787V784H1642V787ZM1668,787V786H1672V787ZM1672,787V786H1675V787ZM1675,787V785H1679V787ZM1679,787V780H1683V787ZM1683,787V779H1686V787ZM1686,787V775H1690V787ZM1690,787V772H1694V787ZM1694,787V772H1697V787ZM1697,787V769H1701V787Z" fill="#ffc000"/><path d="M1642,787V789H1646V787ZM1646,787V792H1650V787ZM1650,787V792H1653V787ZM1653,787V792H1657V787ZM1657,787V795H1661V787ZM1661,787V795H1664V787ZM1664,787V789H1668V787Z" fill="#cc0000"/><path d="M1609,830V829H1613V830ZM1635,830V829H1639V830ZM1639,830V829H1642V830ZM1642,830V816H1646V830ZM1646,830V817H1650V830ZM1650,830V816H1653V830ZM1653,830V815H1657V830ZM1657,830V814H1661V830ZM1661,830V814H1664V830ZM1664,830V820H1668V830ZM1668,830V820H1672V830ZM1672,830V819H1675V830ZM1675,830V820H1679V830ZM1679,830V814H1683V830ZM1683,830V815H1686V830ZM1686,830V823H1690V830ZM1690,830V821H1694V830ZM1694,830V821H1697V830ZM1697,830V812H1701V830Z" fill="#ffc000"/><path d="M1613,830V837H1616V830ZM1616,830V838H1620V830ZM1620,830V832H1624V830ZM1624,830V835H1627V830ZM1627,830V835H1631V830ZM1631,830V834H1635V830Z" fill="#cc0000"/></svg>
</body></html>
